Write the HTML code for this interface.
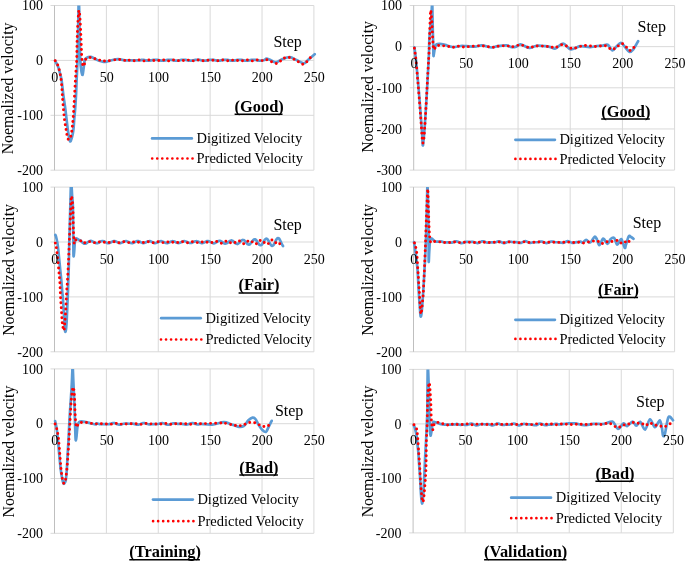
<!DOCTYPE html><html><head><meta charset="utf-8"><style>
html,body{margin:0;padding:0;background:#fff;}
svg{display:block;}
text{font-family:"Liberation Serif", serif;fill:#000;}
.tk{font-size:14px;}
.st{font-size:16px;}
.lg{font-size:14.5px;}
.ti{font-size:15.9px;}
.hd{font-size:16.4px;font-weight:bold;}
</style></head><body>
<svg width="685" height="561" viewBox="0 0 685 561">
<rect width="685" height="561" fill="#fff"/>
<defs>
<clipPath id="cL1"><rect x="51.5" y="5.5" width="265.4" height="164.7"/></clipPath>
<clipPath id="cL2"><rect x="51.5" y="187.1" width="265.4" height="164.7"/></clipPath>
<clipPath id="cL3"><rect x="51.5" y="368.9" width="265.4" height="164.4"/></clipPath>
<clipPath id="cR1"><rect x="410.7" y="5.5" width="266.9" height="164.6"/></clipPath>
<clipPath id="cR2"><rect x="410.5" y="187.1" width="267.1" height="164.7"/></clipPath>
<clipPath id="cR3"><rect x="410.1" y="369.4" width="266.2" height="163.5"/></clipPath>
</defs>
<line x1="106.38" y1="5.5" x2="106.38" y2="170.2" stroke="#d9d9d9" stroke-width="1"/>
<line x1="158.26" y1="5.5" x2="158.26" y2="170.2" stroke="#d9d9d9" stroke-width="1"/>
<line x1="210.14" y1="5.5" x2="210.14" y2="170.2" stroke="#d9d9d9" stroke-width="1"/>
<line x1="262.02" y1="5.5" x2="262.02" y2="170.2" stroke="#d9d9d9" stroke-width="1"/>
<line x1="313.9" y1="5.5" x2="313.9" y2="170.2" stroke="#d9d9d9" stroke-width="1"/>
<line x1="50.5" y1="5.5" x2="313.9" y2="5.5" stroke="#d9d9d9" stroke-width="1"/>
<line x1="50.5" y1="60.4" x2="313.9" y2="60.4" stroke="#d9d9d9" stroke-width="1"/>
<line x1="50.5" y1="115.3" x2="313.9" y2="115.3" stroke="#d9d9d9" stroke-width="1"/>
<line x1="50.5" y1="170.2" x2="313.9" y2="170.2" stroke="#d9d9d9" stroke-width="1"/>
<line x1="54.5" y1="5.5" x2="54.5" y2="170.2" stroke="#bfbfbf" stroke-width="1"/>
<line x1="106.38" y1="187.1" x2="106.38" y2="351.8" stroke="#d9d9d9" stroke-width="1"/>
<line x1="158.26" y1="187.1" x2="158.26" y2="351.8" stroke="#d9d9d9" stroke-width="1"/>
<line x1="210.14" y1="187.1" x2="210.14" y2="351.8" stroke="#d9d9d9" stroke-width="1"/>
<line x1="262.02" y1="187.1" x2="262.02" y2="351.8" stroke="#d9d9d9" stroke-width="1"/>
<line x1="313.9" y1="187.1" x2="313.9" y2="351.8" stroke="#d9d9d9" stroke-width="1"/>
<line x1="50.5" y1="187.1" x2="313.9" y2="187.1" stroke="#d9d9d9" stroke-width="1"/>
<line x1="50.5" y1="242" x2="313.9" y2="242" stroke="#d9d9d9" stroke-width="1"/>
<line x1="50.5" y1="296.9" x2="313.9" y2="296.9" stroke="#d9d9d9" stroke-width="1"/>
<line x1="50.5" y1="351.8" x2="313.9" y2="351.8" stroke="#d9d9d9" stroke-width="1"/>
<line x1="54.5" y1="187.1" x2="54.5" y2="351.8" stroke="#bfbfbf" stroke-width="1"/>
<line x1="106.38" y1="368.9" x2="106.38" y2="533.3" stroke="#d9d9d9" stroke-width="1"/>
<line x1="158.26" y1="368.9" x2="158.26" y2="533.3" stroke="#d9d9d9" stroke-width="1"/>
<line x1="210.14" y1="368.9" x2="210.14" y2="533.3" stroke="#d9d9d9" stroke-width="1"/>
<line x1="262.02" y1="368.9" x2="262.02" y2="533.3" stroke="#d9d9d9" stroke-width="1"/>
<line x1="313.9" y1="368.9" x2="313.9" y2="533.3" stroke="#d9d9d9" stroke-width="1"/>
<line x1="50.5" y1="368.9" x2="313.9" y2="368.9" stroke="#d9d9d9" stroke-width="1"/>
<line x1="50.5" y1="423.7" x2="313.9" y2="423.7" stroke="#d9d9d9" stroke-width="1"/>
<line x1="50.5" y1="478.5" x2="313.9" y2="478.5" stroke="#d9d9d9" stroke-width="1"/>
<line x1="50.5" y1="533.3" x2="313.9" y2="533.3" stroke="#d9d9d9" stroke-width="1"/>
<line x1="54.5" y1="368.9" x2="54.5" y2="533.3" stroke="#bfbfbf" stroke-width="1"/>
<line x1="465.88" y1="5.5" x2="465.88" y2="170.1" stroke="#d9d9d9" stroke-width="1"/>
<line x1="518.06" y1="5.5" x2="518.06" y2="170.1" stroke="#d9d9d9" stroke-width="1"/>
<line x1="570.24" y1="5.5" x2="570.24" y2="170.1" stroke="#d9d9d9" stroke-width="1"/>
<line x1="622.42" y1="5.5" x2="622.42" y2="170.1" stroke="#d9d9d9" stroke-width="1"/>
<line x1="674.6" y1="5.5" x2="674.6" y2="170.1" stroke="#d9d9d9" stroke-width="1"/>
<line x1="409.7" y1="5.5" x2="674.6" y2="5.5" stroke="#d9d9d9" stroke-width="1"/>
<line x1="409.7" y1="46.65" x2="674.6" y2="46.65" stroke="#d9d9d9" stroke-width="1"/>
<line x1="409.7" y1="87.8" x2="674.6" y2="87.8" stroke="#d9d9d9" stroke-width="1"/>
<line x1="409.7" y1="128.95" x2="674.6" y2="128.95" stroke="#d9d9d9" stroke-width="1"/>
<line x1="409.7" y1="170.1" x2="674.6" y2="170.1" stroke="#d9d9d9" stroke-width="1"/>
<line x1="413.7" y1="5.5" x2="413.7" y2="170.1" stroke="#bfbfbf" stroke-width="1"/>
<line x1="465.72" y1="187.1" x2="465.72" y2="351.8" stroke="#d9d9d9" stroke-width="1"/>
<line x1="517.94" y1="187.1" x2="517.94" y2="351.8" stroke="#d9d9d9" stroke-width="1"/>
<line x1="570.16" y1="187.1" x2="570.16" y2="351.8" stroke="#d9d9d9" stroke-width="1"/>
<line x1="622.38" y1="187.1" x2="622.38" y2="351.8" stroke="#d9d9d9" stroke-width="1"/>
<line x1="674.6" y1="187.1" x2="674.6" y2="351.8" stroke="#d9d9d9" stroke-width="1"/>
<line x1="409.5" y1="187.1" x2="674.6" y2="187.1" stroke="#d9d9d9" stroke-width="1"/>
<line x1="409.5" y1="242" x2="674.6" y2="242" stroke="#d9d9d9" stroke-width="1"/>
<line x1="409.5" y1="296.9" x2="674.6" y2="296.9" stroke="#d9d9d9" stroke-width="1"/>
<line x1="409.5" y1="351.8" x2="674.6" y2="351.8" stroke="#d9d9d9" stroke-width="1"/>
<line x1="413.5" y1="187.1" x2="413.5" y2="351.8" stroke="#bfbfbf" stroke-width="1"/>
<line x1="465.14" y1="369.4" x2="465.14" y2="532.9" stroke="#d9d9d9" stroke-width="1"/>
<line x1="517.18" y1="369.4" x2="517.18" y2="532.9" stroke="#d9d9d9" stroke-width="1"/>
<line x1="569.22" y1="369.4" x2="569.22" y2="532.9" stroke="#d9d9d9" stroke-width="1"/>
<line x1="621.26" y1="369.4" x2="621.26" y2="532.9" stroke="#d9d9d9" stroke-width="1"/>
<line x1="673.3" y1="369.4" x2="673.3" y2="532.9" stroke="#d9d9d9" stroke-width="1"/>
<line x1="409.1" y1="369.4" x2="673.3" y2="369.4" stroke="#d9d9d9" stroke-width="1"/>
<line x1="409.1" y1="423.9" x2="673.3" y2="423.9" stroke="#d9d9d9" stroke-width="1"/>
<line x1="409.1" y1="478.4" x2="673.3" y2="478.4" stroke="#d9d9d9" stroke-width="1"/>
<line x1="409.1" y1="532.9" x2="673.3" y2="532.9" stroke="#d9d9d9" stroke-width="1"/>
<line x1="413.1" y1="369.4" x2="413.1" y2="532.9" stroke="#bfbfbf" stroke-width="1"/>
<g clip-path="url(#cL1)">
<path d="M55.2,60.8C55.67,61.75 57.23,64.55 58,66.5C58.77,68.45 59.2,70.17 59.8,72.5C60.4,74.83 61,76.67 61.6,80.5C62.2,84.33 62.83,91.17 63.4,95.5C63.97,99.83 64.55,103.17 65,106.5C65.45,109.83 65.62,111.5 66.1,115.5C66.58,119.5 67.4,126.83 67.9,130.5C68.4,134.17 68.73,135.7 69.1,137.5C69.47,139.3 69.77,140.88 70.1,141.3C70.43,141.72 70.8,140.63 71.1,140C71.4,139.37 71.53,139.08 71.9,137.5C72.27,135.92 72.9,133.67 73.3,130.5C73.7,127.33 74,122 74.3,118.5C74.6,115 74.82,113.33 75.1,109.5C75.38,105.67 75.75,100.33 76,95.5C76.25,90.67 76.4,85.17 76.6,80.5C76.8,75.83 77.05,70.92 77.2,67.5C77.35,64.08 77.38,64.5 77.5,60C77.62,55.5 77.75,47.92 77.9,40.5C78.05,33.08 78.25,23 78.4,15.5C78.55,8 78.65,-4.5 78.8,-4.5C78.95,-4.5 79.13,8 79.3,15.5C79.47,23 79.63,33.08 79.8,40.5C79.97,47.92 80.05,55 80.3,60C80.55,65 80.92,68.03 81.3,70.5C81.68,72.97 82.2,75.3 82.6,74.8C83,74.3 83.35,69.88 83.7,67.5C84.05,65.12 84.23,62.08 84.7,60.5C85.17,58.92 85.53,58.6 86.5,58C87.47,57.4 89.17,56.82 90.5,56.9C91.83,56.98 93.17,57.9 94.5,58.5C95.83,59.1 97,59.95 98.5,60.5C100,61.05 102.17,61.6 103.5,61.8C104.83,62 105.33,61.92 106.5,61.7C107.67,61.48 108.55,60.92 110.5,60.5C112.45,60.08 115.7,59.23 118.2,59.2C120.7,59.17 121.78,60.12 125.5,60.3C129.22,60.48 137.83,60.38 140.5,60.3C143.17,60.22 141,59.86 141.5,59.8C142,59.74 142.83,59.87 143.5,59.95C144.17,60.03 144.83,60.19 145.5,60.29C146.17,60.39 146.83,60.52 147.5,60.56C148.17,60.61 148.83,60.61 149.5,60.56C150.17,60.52 150.83,60.39 151.5,60.29C152.17,60.19 152.83,60.03 153.5,59.95C154.17,59.87 154.83,59.8 155.5,59.8C156.17,59.8 156.83,59.87 157.5,59.95C158.17,60.03 158.83,60.19 159.5,60.29C160.17,60.39 160.83,60.52 161.5,60.56C162.17,60.61 162.83,60.61 163.5,60.56C164.17,60.52 164.83,60.39 165.5,60.29C166.17,60.19 166.83,60.03 167.5,59.95C168.17,59.87 168.83,59.8 169.5,59.8C170.17,59.8 170.83,59.87 171.5,59.95C172.17,60.03 172.83,60.19 173.5,60.29C174.17,60.39 174.83,60.52 175.5,60.56C176.17,60.61 176.83,60.61 177.5,60.56C178.17,60.52 178.83,60.39 179.5,60.29C180.17,60.19 180.83,60.03 181.5,59.95C182.17,59.87 182.83,59.8 183.5,59.8C184.17,59.8 184.83,59.87 185.5,59.95C186.17,60.03 186.83,60.19 187.5,60.29C188.17,60.39 188.83,60.52 189.5,60.56C190.17,60.61 190.83,60.61 191.5,60.56C192.17,60.52 192.83,60.39 193.5,60.29C194.17,60.19 194.83,60.03 195.5,59.95C196.17,59.87 196.83,59.8 197.5,59.8C198.17,59.8 198.83,59.87 199.5,59.95C200.17,60.03 200.83,60.19 201.5,60.29C202.17,60.39 202.83,60.52 203.5,60.56C204.17,60.61 204.83,60.61 205.5,60.56C206.17,60.52 206.83,60.39 207.5,60.29C208.17,60.19 208.83,60.03 209.5,59.95C210.17,59.87 210.83,59.8 211.5,59.8C212.17,59.8 212.83,59.87 213.5,59.95C214.17,60.03 214.83,60.19 215.5,60.29C216.17,60.39 216.83,60.52 217.5,60.56C218.17,60.61 218.83,60.61 219.5,60.56C220.17,60.52 220.83,60.39 221.5,60.29C222.17,60.19 222.83,60.03 223.5,59.95C224.17,59.87 224.83,59.8 225.5,59.8C226.17,59.8 226.83,59.87 227.5,59.95C228.17,60.03 228.83,60.19 229.5,60.29C230.17,60.39 230.83,60.52 231.5,60.56C232.17,60.61 232.83,60.61 233.5,60.56C234.17,60.52 234.83,60.39 235.5,60.29C236.17,60.19 236.83,60.03 237.5,59.95C238.17,59.87 238.83,59.8 239.5,59.8C240.17,59.8 240.83,59.87 241.5,59.95C242.17,60.03 242.83,60.19 243.5,60.29C244.17,60.39 244.83,60.52 245.5,60.56C246.17,60.61 246.83,60.61 247.5,60.56C248.17,60.52 248.83,60.39 249.5,60.29C250.17,60.19 250.83,60.03 251.5,59.95C252.17,59.87 252.83,59.8 253.5,59.8C254.17,59.8 254.83,59.87 255.5,59.95C256.17,60.03 256.83,60.19 257.5,60.29C258.17,60.39 258.83,60.52 259.5,60.56C260.17,60.61 260.67,60.64 261.5,60.56C262.33,60.48 263.67,60.44 264.5,60.1C265.33,59.76 265.5,58.52 266.5,58.5C267.5,58.48 268.95,59.35 270.5,60C272.05,60.65 273.8,62.57 275.8,62.4C277.8,62.23 280.17,59.88 282.5,59C284.83,58.12 287.47,56.93 289.8,57.1C292.13,57.27 294.15,58.97 296.5,60C298.85,61.03 301.9,63.38 303.9,63.3C305.9,63.22 306.7,61.02 308.5,59.5C310.3,57.98 313.67,55.08 314.7,54.2" fill="none" stroke="#5b9bd5" stroke-width="2.7" stroke-linejoin="round" stroke-linecap="round"/>
<path d="M55.2,60.8C55.63,61.55 56.98,63.17 57.8,65.3C58.62,67.43 59.47,70.45 60.1,73.6C60.73,76.75 61.23,80.67 61.6,84.2C61.97,87.73 62,90.75 62.3,94.8C62.6,98.85 63.02,104.22 63.4,108.5C63.78,112.78 64.15,116.98 64.6,120.5C65.05,124.02 65.6,126.68 66.1,129.6C66.6,132.52 67.1,136.35 67.6,138C68.1,139.65 68.53,139.88 69.1,139.5C69.67,139.12 70.43,138.1 71,135.7C71.57,133.3 72.05,129.38 72.5,125.1C72.95,120.82 73.3,116.05 73.7,110C74.1,103.95 74.52,95.37 74.9,88.8C75.28,82.23 75.7,75.4 76,70.6C76.3,65.8 76.52,65.02 76.7,60C76.88,54.98 76.88,47.08 77.1,40.5C77.32,33.92 77.68,25.5 78,20.5C78.32,15.5 78.67,10.83 79,10.5C79.33,10.17 79.67,13.83 80,18.5C80.33,23.17 80.72,32.33 81,38.5C81.28,44.67 81.45,51.33 81.7,55.5C81.95,59.67 82.2,61.67 82.5,63.5C82.8,65.33 83.08,66.67 83.5,66.5C83.92,66.33 84.55,63.83 85,62.5C85.45,61.17 85.28,59.33 86.2,58.5C87.12,57.67 88.95,57.42 90.5,57.5C92.05,57.58 93.83,58.53 95.5,59C97.17,59.47 98.67,59.97 100.5,60.3C102.33,60.63 103.5,61.13 106.5,61C109.5,60.87 115.33,59.58 118.5,59.5C121.67,59.42 124.17,60.43 125.5,60.5C126.83,60.57 126,59.96 126.5,59.9C127,59.84 127.83,60.02 128.5,60.15C129.17,60.27 129.83,60.52 130.5,60.65C131.17,60.77 131.83,60.9 132.5,60.9C133.17,60.9 133.83,60.77 134.5,60.65C135.17,60.52 135.83,60.27 136.5,60.15C137.17,60.02 137.83,59.9 138.5,59.9C139.17,59.9 139.83,60.02 140.5,60.15C141.17,60.27 141.83,60.52 142.5,60.65C143.17,60.77 143.83,60.9 144.5,60.9C145.17,60.9 145.83,60.77 146.5,60.65C147.17,60.52 147.83,60.27 148.5,60.15C149.17,60.02 149.83,59.9 150.5,59.9C151.17,59.9 151.83,60.02 152.5,60.15C153.17,60.27 153.83,60.52 154.5,60.65C155.17,60.77 155.83,60.9 156.5,60.9C157.17,60.9 157.83,60.77 158.5,60.65C159.17,60.52 159.83,60.27 160.5,60.15C161.17,60.02 161.83,59.9 162.5,59.9C163.17,59.9 163.83,60.02 164.5,60.15C165.17,60.27 165.83,60.52 166.5,60.65C167.17,60.77 167.83,60.9 168.5,60.9C169.17,60.9 169.83,60.77 170.5,60.65C171.17,60.52 171.83,60.27 172.5,60.15C173.17,60.02 173.83,59.9 174.5,59.9C175.17,59.9 175.83,60.02 176.5,60.15C177.17,60.27 177.83,60.52 178.5,60.65C179.17,60.77 179.83,60.9 180.5,60.9C181.17,60.9 181.83,60.77 182.5,60.65C183.17,60.52 183.83,60.27 184.5,60.15C185.17,60.02 185.83,59.9 186.5,59.9C187.17,59.9 187.83,60.02 188.5,60.15C189.17,60.27 189.83,60.52 190.5,60.65C191.17,60.77 191.83,60.9 192.5,60.9C193.17,60.9 193.83,60.77 194.5,60.65C195.17,60.52 195.83,60.27 196.5,60.15C197.17,60.02 197.83,59.9 198.5,59.9C199.17,59.9 199.83,60.02 200.5,60.15C201.17,60.27 201.83,60.52 202.5,60.65C203.17,60.77 203.83,60.9 204.5,60.9C205.17,60.9 205.83,60.77 206.5,60.65C207.17,60.52 207.83,60.27 208.5,60.15C209.17,60.02 209.83,59.9 210.5,59.9C211.17,59.9 211.83,60.02 212.5,60.15C213.17,60.27 213.83,60.52 214.5,60.65C215.17,60.77 215.83,60.9 216.5,60.9C217.17,60.9 217.83,60.77 218.5,60.65C219.17,60.52 219.83,60.27 220.5,60.15C221.17,60.02 221.83,59.9 222.5,59.9C223.17,59.9 223.83,60.02 224.5,60.15C225.17,60.27 225.83,60.52 226.5,60.65C227.17,60.77 227.83,60.9 228.5,60.9C229.17,60.9 229.83,60.77 230.5,60.65C231.17,60.52 231.83,60.27 232.5,60.15C233.17,60.02 233.83,59.9 234.5,59.9C235.17,59.9 235.83,60.02 236.5,60.15C237.17,60.27 237.83,60.52 238.5,60.65C239.17,60.77 239.83,60.9 240.5,60.9C241.17,60.9 241.83,60.77 242.5,60.65C243.17,60.52 243.83,60.27 244.5,60.15C245.17,60.02 245.83,59.9 246.5,59.9C247.17,59.9 247.83,60.02 248.5,60.15C249.17,60.27 249.83,60.52 250.5,60.65C251.17,60.77 251.83,60.9 252.5,60.9C253.17,60.9 253.83,60.77 254.5,60.65C255.17,60.52 255.83,60.27 256.5,60.15C257.17,60.02 257.83,59.9 258.5,59.9C259.17,59.9 259.83,60.02 260.5,60.15C261.17,60.27 261.83,60.66 262.5,60.65C263.17,60.64 263.5,60.19 264.5,60.1C265.5,60.01 266.5,59.53 268.5,60.1C270.5,60.67 273.83,63.85 276.5,63.5C279.17,63.15 282.17,58.97 284.5,58C286.83,57.03 288.5,57.28 290.5,57.7C292.5,58.12 294.33,59.43 296.5,60.5C298.67,61.57 301.1,64.67 303.5,64.1C305.9,63.53 309.67,58.27 310.9,57.1" fill="none" stroke="#ff0000" stroke-width="2.95" stroke-linejoin="round" stroke-linecap="round" stroke-dasharray="0 5"/>
</g>
<g clip-path="url(#cL2)">
<path d="M55.3,234.9C55.42,235.17 55.67,235.25 56,236.5C56.33,237.75 56.92,240.13 57.3,242.4C57.68,244.67 57.88,246.25 58.3,250.1C58.72,253.95 59.3,260.43 59.8,265.5C60.3,270.57 60.88,276 61.3,280.5C61.72,285 62.05,289.67 62.3,292.5C62.55,295.33 62.47,292.83 62.8,297.5C63.13,302.17 63.9,314.83 64.3,320.5C64.7,326.17 64.9,330.17 65.2,331.5C65.5,332.83 65.85,330.33 66.1,328.5C66.35,326.67 66.43,325.67 66.7,320.5C66.97,315.33 67.45,303.67 67.7,297.5C67.95,291.33 68.02,288.83 68.2,283.5C68.38,278.17 68.62,272.5 68.8,265.5C68.98,258.5 69.07,250.67 69.3,241.5C69.53,232.33 69.9,220.33 70.2,210.5C70.5,200.67 70.78,185 71.1,182.5C71.42,180 71.8,191.5 72.1,195.5C72.4,199.5 72.7,199.33 72.9,206.5C73.1,213.67 73.2,230.33 73.3,238.5C73.4,246.67 73.37,253.17 73.5,255.5C73.63,257.83 73.85,255 74.1,252.5C74.35,250 74.68,242.83 75,240.5C75.32,238.17 75.58,238.75 76,238.5C76.42,238.25 77,238.76 77.5,239C78,239.24 78.58,239.73 79,239.94C79.42,240.16 79.67,240.08 80,240.26C80.33,240.45 80.67,240.76 81,241.06C81.33,241.36 81.67,241.75 82,242.07C82.33,242.4 82.67,242.75 83,243.01C83.33,243.27 83.67,243.5 84,243.62C84.33,243.74 84.67,243.79 85,243.76C85.33,243.73 85.67,243.59 86,243.43C86.33,243.27 86.67,243.01 87,242.78C87.33,242.54 87.67,242.24 88,242.01C88.33,241.77 88.67,241.52 89,241.35C89.33,241.17 89.67,241.04 90,240.97C90.33,240.9 90.67,240.88 91,240.91C91.33,240.94 91.67,241.03 92,241.15C92.33,241.27 92.67,241.46 93,241.65C93.33,241.84 93.67,242.07 94,242.27C94.33,242.47 94.67,242.69 95,242.84C95.33,242.99 95.67,243.13 96,243.19C96.33,243.26 96.67,243.28 97,243.24C97.33,243.2 97.67,243.09 98,242.96C98.33,242.83 98.67,242.63 99,242.45C99.33,242.26 99.67,242.03 100,241.84C100.33,241.65 100.67,241.45 101,241.32C101.33,241.18 101.67,241.07 102,241.02C102.33,240.97 102.67,240.97 103,241.02C103.33,241.08 103.67,241.19 104,241.33C104.33,241.47 104.67,241.67 105,241.85C105.33,242.03 105.67,242.26 106,242.43C106.33,242.61 106.67,242.79 107,242.92C107.33,243.04 107.67,243.13 108,243.16C108.33,243.2 108.67,243.18 109,243.11C109.33,243.05 109.67,242.92 110,242.78C110.33,242.63 110.67,242.44 111,242.26C111.33,242.08 111.67,241.86 112,241.7C112.33,241.53 112.67,241.37 113,241.26C113.33,241.15 113.67,241.08 114,241.06C114.33,241.05 114.67,241.08 115,241.16C115.33,241.23 115.67,241.37 116,241.51C116.33,241.66 116.67,241.86 117,242.03C117.33,242.21 117.67,242.41 118,242.56C118.33,242.71 118.67,242.86 119,242.95C119.33,243.04 119.67,243.1 120,243.1C120.33,243.11 120.67,243.06 121,242.97C121.33,242.89 121.67,242.75 122,242.6C122.33,242.45 122.67,242.26 123,242.09C123.33,241.92 123.67,241.72 124,241.58C124.33,241.43 124.67,241.3 125,241.22C125.33,241.14 125.67,241.1 126,241.11C126.33,241.12 126.67,241.18 127,241.28C127.33,241.37 127.67,241.52 128,241.68C128.33,241.83 128.67,242.02 129,242.19C129.33,242.36 129.67,242.55 130,242.68C130.33,242.82 130.67,242.94 131,243.01C131.33,243.07 131.67,243.1 132,243.08C132.33,243.05 132.67,242.98 133,242.87C133.33,242.77 133.67,242.61 134,242.45C134.33,242.29 134.67,242.09 135,241.93C135.33,241.76 135.67,241.59 136,241.46C136.33,241.33 136.67,241.22 137,241.17C137.33,241.12 137.67,241.11 138,241.14C138.33,241.18 138.67,241.27 139,241.39C139.33,241.5 139.67,241.67 140,241.83C140.33,241.99 140.67,242.19 141,242.35C141.33,242.51 141.67,242.68 142,242.79C142.33,242.91 142.67,243 143,243.04C143.33,243.08 143.67,243.08 144,243.03C144.33,242.98 144.67,242.87 145,242.75C145.33,242.63 145.67,242.46 146,242.29C146.33,242.13 146.67,241.94 147,241.78C147.33,241.63 147.67,241.47 148,241.36C148.33,241.25 148.67,241.17 149,241.15C149.33,241.12 149.67,241.14 150,241.2C150.33,241.26 150.67,241.38 151,241.51C151.33,241.64 151.67,241.82 152,241.98C152.33,242.15 152.67,242.34 153,242.49C153.33,242.64 153.67,242.79 154,242.88C154.33,242.98 154.67,243.04 155,243.05C155.33,243.07 155.67,243.03 156,242.96C156.33,242.89 156.67,242.76 157,242.62C157.33,242.48 157.67,242.3 158,242.14C158.33,241.98 158.67,241.79 159,241.65C159.33,241.5 159.67,241.37 160,241.28C160.33,241.2 160.67,241.15 161,241.15C161.33,241.15 161.67,241.2 162,241.29C162.33,241.37 162.67,241.51 163,241.65C163.33,241.79 163.67,241.98 164,242.14C164.33,242.3 164.67,242.48 165,242.62C165.33,242.75 165.67,242.88 166,242.95C166.33,243.02 166.67,243.05 167,243.04C167.33,243.03 167.67,242.96 168,242.87C168.33,242.77 168.67,242.63 169,242.48C169.33,242.33 169.67,242.15 170,241.99C170.33,241.83 170.67,241.65 171,241.53C171.33,241.4 171.67,241.29 172,241.23C172.33,241.17 172.67,241.15 173,241.18C173.33,241.2 173.67,241.28 174,241.39C174.33,241.49 174.67,241.64 175,241.79C175.33,241.94 175.67,242.13 176,242.29C176.33,242.44 176.67,242.61 177,242.73C177.33,242.84 177.67,242.94 178,242.99C178.33,243.03 178.67,243.04 179,243C179.33,242.96 179.67,242.87 180,242.76C180.33,242.65 180.67,242.49 181,242.33C181.33,242.18 181.67,241.99 182,241.84C182.33,241.69 182.67,241.53 183,241.43C183.33,241.32 183.67,241.23 184,241.2C184.33,241.17 184.67,241.18 185,241.23C185.33,241.28 185.67,241.38 186,241.5C186.33,241.62 186.67,241.79 187,241.94C187.33,242.09 187.67,242.28 188,242.42C188.33,242.57 188.67,242.72 189,242.82C189.33,242.91 189.67,242.98 190,243C190.33,243.03 190.67,243 191,242.94C191.33,242.88 191.67,242.76 192,242.64C192.33,242.51 192.67,242.34 193,242.19C193.33,242.03 193.67,241.85 194,241.71C194.33,241.57 194.67,241.43 195,241.35C195.33,241.26 195.67,241.2 196,241.2C196.33,241.19 196.67,241.23 197,241.3C197.33,241.37 197.67,241.5 198,241.63C198.33,241.76 198.67,241.93 199,242.09C199.33,242.24 199.67,242.42 200,242.55C200.33,242.68 200.67,242.81 201,242.9C201.33,242.98 201.67,243.03 202,243.03C202.33,243.04 202.67,242.99 203,242.91C203.33,242.83 203.67,242.69 204,242.54C204.33,242.4 204.67,242.2 205,242.03C205.33,241.86 205.67,241.66 206,241.52C206.33,241.37 206.67,241.22 207,241.14C207.33,241.06 207.67,241.02 208,241.03C208.33,241.04 208.67,241.11 209,241.22C209.33,241.33 209.67,241.5 210,241.67C210.33,241.85 210.67,242.07 211,242.27C211.33,242.46 211.67,242.68 212,242.84C212.33,243 212.67,243.14 213,243.22C213.33,243.3 213.67,243.33 214,243.29C214.33,243.26 214.67,243.16 215,243.03C215.33,242.89 215.67,242.69 216,242.48C216.33,242.28 216.67,242.02 217,241.81C217.33,241.59 217.67,241.36 218,241.19C218.33,241.03 218.67,240.88 219,240.82C219.33,240.75 219.67,240.74 220,240.79C220.33,240.85 220.67,240.98 221,241.15C221.33,241.31 221.67,241.55 222,241.78C222.33,242.01 222.67,242.3 223,242.53C223.33,242.77 223.67,243.02 224,243.18C224.33,243.35 224.67,243.49 225,243.55C225.33,243.6 225.67,243.59 226,243.5C226.33,243.42 226.67,243.26 227,243.06C227.33,242.86 227.67,242.59 228,242.33C228.33,242.07 228.67,241.76 229,241.51C229.33,241.26 229.67,241 230,240.83C230.33,240.66 230.67,240.53 231,240.48C231.33,240.44 231.67,240.47 232,240.58C232.33,240.68 232.67,240.89 233,241.12C233.33,241.35 233.67,241.68 234,241.98C234.33,242.28 234.67,242.64 235,242.93C235.33,243.21 235.67,243.5 236,243.68C236.33,243.87 236.67,244 237,244.02C237.33,244.05 237.67,243.98 238,243.82C238.33,243.67 238.67,243.4 239,243.11C239.33,242.82 239.67,242.43 240,242.07C240.33,241.72 240.67,241.3 241,240.99C241.33,240.67 241.67,240.36 242,240.17C242.33,239.99 242.67,239.87 243,239.88C243.33,239.88 243.67,240.01 244,240.21C244.33,240.41 244.67,240.75 245,241.1C245.33,241.46 245.67,241.92 246,242.32C246.33,242.73 246.67,243.19 247,243.53C247.33,243.87 247.67,244.2 248,244.38C248.33,244.56 248.67,244.65 249,244.6C249.33,244.56 249.67,244.38 250,244.12C250.33,243.85 250.67,243.45 251,243.03C251.33,242.62 251.67,242.09 252,241.63C252.33,241.18 252.67,240.68 253,240.31C253.33,239.95 253.67,239.62 254,239.45C254.33,239.29 254.67,239.23 255,239.32C255.33,239.41 255.67,239.66 256,239.98C256.33,240.31 256.67,240.8 257,241.28C257.33,241.76 257.67,242.36 258,242.86C258.33,243.36 258.67,243.9 259,244.28C259.33,244.66 259.67,244.99 260,245.13C260.33,245.27 260.67,245.28 261,245.14C261.33,244.99 261.67,244.67 262,244.27C262.33,243.88 262.67,243.3 263,242.76C263.33,242.21 263.67,241.54 264,241C264.33,240.46 264.67,239.89 265,239.5C265.33,239.12 265.67,238.81 266,238.7C266.33,238.59 266.67,238.64 267,238.84C267.33,239.05 267.67,239.46 268,239.93C268.33,240.4 268.67,241.06 269,241.66C269.33,242.27 269.67,243 270,243.58C270.33,244.16 270.67,244.75 271,245.13C271.33,245.51 271.67,245.79 272,245.86C272.33,245.93 272.67,245.81 273,245.54C273.33,245.26 273.67,244.76 274,244.22C274.33,243.67 274.67,242.93 275,242.26C275.33,241.59 275.67,240.8 276,240.2C276.33,239.59 276.67,238.99 277,238.62C277.33,238.26 277.67,238.02 278,238C278.33,237.98 278.67,238.18 279,238.53C279.33,238.88 279.67,239.47 280,240.09C280.33,240.72 280.67,241.54 281,242.27C281.33,243 281.67,243.83 282,244.46C282.33,245.08 282.83,245.76 283,246.03" fill="none" stroke="#5b9bd5" stroke-width="2.7" stroke-linejoin="round" stroke-linecap="round"/>
<path d="M55.3,243.1C55.42,243.45 55.65,243.05 56,245.2C56.35,247.35 56.93,251.78 57.4,256C57.87,260.22 58.4,266.25 58.8,270.5C59.2,274.75 59.55,277.95 59.8,281.5C60.05,285.05 60.13,288.45 60.3,291.8C60.47,295.15 60.6,298.33 60.8,301.6C61,304.87 61.28,308.13 61.5,311.4C61.72,314.67 61.88,318.67 62.1,321.2C62.32,323.73 62.48,325.02 62.8,326.6C63.12,328.18 63.72,330.82 64,330.7C64.28,330.58 64.33,327.57 64.5,325.9C64.67,324.23 64.8,323.2 65,320.7C65.2,318.2 65.5,314.17 65.7,310.9C65.9,307.63 66.03,304.45 66.2,301.1C66.37,297.75 66.5,294.07 66.7,290.8C66.9,287.53 67.1,286.38 67.4,281.5C67.7,276.62 68.18,268.17 68.5,261.5C68.82,254.83 69.02,248.23 69.3,241.5C69.58,234.77 69.95,227.1 70.2,221.1C70.45,215.1 70.62,209.6 70.8,205.5C70.98,201.4 71.1,197.67 71.3,196.5C71.5,195.33 71.73,196.57 72,198.5C72.27,200.43 72.67,202.93 72.9,208.1C73.13,213.27 73.23,224.43 73.4,229.5C73.57,234.57 73.75,236.13 73.9,238.5C74.05,240.87 74.02,243.43 74.3,243.7C74.58,243.97 75.07,240.68 75.6,240.1C76.13,239.52 76.48,240.02 77.5,240.2C78.52,240.38 80.87,240.82 81.7,241.2C82.53,241.58 82.2,242.25 82.5,242.5C82.8,242.75 83.17,242.68 83.5,242.73C83.83,242.78 84.17,242.8 84.5,242.8C84.83,242.79 85.17,242.75 85.5,242.69C85.83,242.63 86.17,242.54 86.5,242.44C86.83,242.34 87.17,242.22 87.5,242.12C87.83,242.02 88.17,241.9 88.5,241.82C88.83,241.74 89.17,241.67 89.5,241.64C89.83,241.6 90.17,241.6 90.5,241.62C90.83,241.64 91.17,241.7 91.5,241.78C91.83,241.85 92.17,241.95 92.5,242.05C92.83,242.15 93.17,242.28 93.5,242.38C93.83,242.47 94.17,242.58 94.5,242.64C94.83,242.71 95.17,242.76 95.5,242.78C95.83,242.8 96.17,242.78 96.5,242.74C96.83,242.71 97.17,242.63 97.5,242.55C97.83,242.47 98.17,242.35 98.5,242.25C98.83,242.15 99.17,242.03 99.5,241.94C99.83,241.84 100.17,241.76 100.5,241.7C100.83,241.65 101.17,241.62 101.5,241.62C101.83,241.62 102.17,241.65 102.5,241.7C102.83,241.76 103.17,241.85 103.5,241.94C103.83,242.03 104.17,242.15 104.5,242.25C104.83,242.35 105.17,242.46 105.5,242.54C105.83,242.63 106.17,242.7 106.5,242.74C106.83,242.77 107.17,242.79 107.5,242.77C107.83,242.75 108.17,242.7 108.5,242.64C108.83,242.57 109.17,242.47 109.5,242.37C109.83,242.28 110.17,242.16 110.5,242.06C110.83,241.96 111.17,241.86 111.5,241.79C111.83,241.72 112.17,241.66 112.5,241.64C112.83,241.62 113.17,241.62 113.5,241.66C113.83,241.69 114.17,241.76 114.5,241.84C114.83,241.91 115.17,242.02 115.5,242.12C115.83,242.22 116.17,242.34 116.5,242.43C116.83,242.52 117.17,242.61 117.5,242.67C117.83,242.73 118.17,242.76 118.5,242.77C118.83,242.77 119.17,242.75 119.5,242.7C119.83,242.65 120.17,242.57 120.5,242.48C120.83,242.4 121.17,242.28 121.5,242.18C121.83,242.09 122.17,241.97 122.5,241.89C122.83,241.81 123.17,241.73 123.5,241.69C123.83,241.65 124.17,241.63 124.5,241.64C124.83,241.65 125.17,241.69 125.5,241.76C125.83,241.82 126.17,241.91 126.5,242C126.83,242.09 127.17,242.21 127.5,242.31C127.83,242.4 128.17,242.51 128.5,242.58C128.83,242.65 129.17,242.71 129.5,242.74C129.83,242.77 130.17,242.77 130.5,242.74C130.83,242.71 131.17,242.65 131.5,242.58C131.83,242.51 132.17,242.4 132.5,242.31C132.83,242.21 133.17,242.1 133.5,242C133.83,241.91 134.17,241.82 134.5,241.76C134.83,241.7 135.17,241.66 135.5,241.65C135.83,241.64 136.17,241.66 136.5,241.7C136.83,241.74 137.17,241.82 137.5,241.9C137.83,241.98 138.17,242.09 138.5,242.18C138.83,242.28 139.17,242.39 139.5,242.48C139.83,242.56 140.17,242.64 140.5,242.68C140.83,242.73 141.17,242.75 141.5,242.75C141.83,242.74 142.17,242.71 142.5,242.65C142.83,242.6 143.17,242.51 143.5,242.42C143.83,242.33 144.17,242.22 144.5,242.12C144.83,242.03 145.17,241.93 145.5,241.85C145.83,241.78 146.17,241.71 146.5,241.68C146.83,241.65 147.17,241.65 147.5,241.67C147.83,241.69 148.17,241.74 148.5,241.81C148.83,241.88 149.17,241.97 149.5,242.07C149.83,242.16 150.17,242.27 150.5,242.36C150.83,242.45 151.17,242.55 151.5,242.61C151.83,242.67 152.17,242.72 152.5,242.73C152.83,242.75 153.17,242.74 153.5,242.7C153.83,242.66 154.17,242.6 154.5,242.52C154.83,242.44 155.17,242.34 155.5,242.24C155.83,242.15 156.17,242.04 156.5,241.96C156.83,241.87 157.17,241.79 157.5,241.74C157.83,241.69 158.17,241.66 158.5,241.66C158.83,241.66 159.17,241.7 159.5,241.74C159.83,241.79 160.17,241.88 160.5,241.96C160.83,242.04 161.17,242.15 161.5,242.24C161.83,242.34 162.17,242.44 162.5,242.52C162.83,242.59 163.17,242.66 163.5,242.69C163.83,242.73 164.17,242.74 164.5,242.72C164.83,242.71 165.17,242.66 165.5,242.6C165.83,242.54 166.17,242.45 166.5,242.36C166.83,242.27 167.17,242.16 167.5,242.07C167.83,241.98 168.17,241.89 168.5,241.82C168.83,241.76 169.17,241.71 169.5,241.69C169.83,241.67 170.17,241.67 170.5,241.7C170.83,241.73 171.17,241.8 171.5,241.87C171.83,241.94 172.17,242.04 172.5,242.13C172.83,242.22 173.17,242.33 173.5,242.41C173.83,242.49 174.17,242.58 174.5,242.63C174.83,242.68 175.17,242.72 175.5,242.72C175.83,242.73 176.17,242.7 176.5,242.66C176.83,242.61 177.17,242.54 177.5,242.46C177.83,242.38 178.17,242.28 178.5,242.19C178.83,242.1 179.17,241.99 179.5,241.92C179.83,241.84 180.17,241.77 180.5,241.73C180.83,241.69 181.17,241.68 181.5,241.69C181.83,241.7 182.17,241.74 182.5,241.79C182.83,241.85 183.17,241.94 183.5,242.02C183.83,242.1 184.17,242.21 184.5,242.3C184.83,242.39 185.17,242.48 185.5,242.55C185.83,242.61 186.17,242.67 186.5,242.69C186.83,242.72 187.17,242.72 187.5,242.69C187.83,242.67 188.17,242.61 188.5,242.55C188.83,242.48 189.17,242.38 189.5,242.3C189.83,242.21 190.17,242.1 190.5,242.02C190.83,241.94 191.17,241.85 191.5,241.8C191.83,241.75 192.17,241.71 192.5,241.7C192.83,241.69 193.17,241.7 193.5,241.74C193.83,241.78 194.17,241.85 194.5,241.92C194.83,242 195.17,242.1 195.5,242.19C195.83,242.27 196.17,242.38 196.5,242.45C196.83,242.53 197.17,242.6 197.5,242.64C197.83,242.68 198.17,242.71 198.5,242.7C198.83,242.7 199.17,242.66 199.5,242.61C199.83,242.56 200.17,242.48 200.5,242.4C200.83,242.32 201.17,242.22 201.5,242.13C201.83,242.04 202.17,241.93 202.5,241.85C202.83,241.77 203.17,241.7 203.5,241.66C203.83,241.62 204.17,241.6 204.5,241.61C204.83,241.63 205.17,241.68 205.5,241.75C205.83,241.82 206.17,241.93 206.5,242.04C206.83,242.15 207.17,242.29 207.5,242.4C207.83,242.52 208.17,242.64 208.5,242.73C208.83,242.81 209.17,242.89 209.5,242.92C209.83,242.94 210.17,242.94 210.5,242.89C210.83,242.85 211.17,242.76 211.5,242.66C211.83,242.55 212.17,242.4 212.5,242.27C212.83,242.13 213.17,241.96 213.5,241.83C213.83,241.7 214.17,241.56 214.5,241.48C214.83,241.39 215.17,241.33 215.5,241.32C215.83,241.32 216.17,241.36 216.5,241.43C216.83,241.51 217.17,241.64 217.5,241.78C217.83,241.92 218.17,242.11 218.5,242.28C218.83,242.44 219.17,242.64 219.5,242.78C219.83,242.92 220.17,243.05 220.5,243.13C220.83,243.2 221.17,243.23 221.5,243.21C221.83,243.19 222.17,243.11 222.5,242.99C222.83,242.88 223.17,242.7 223.5,242.52C223.83,242.34 224.17,242.12 224.5,241.93C224.83,241.74 225.17,241.54 225.5,241.39C225.83,241.25 226.17,241.13 226.5,241.08C226.83,241.03 227.17,241.03 227.5,241.09C227.83,241.15 228.17,241.28 228.5,241.44C228.83,241.59 229.17,241.82 229.5,242.03C229.83,242.24 230.17,242.5 230.5,242.7C230.83,242.9 231.17,243.12 231.5,243.25C231.83,243.38 232.17,243.48 232.5,243.5C232.83,243.52 233.17,243.47 233.5,243.37C233.83,243.26 234.17,243.08 234.5,242.87C234.83,242.67 235.17,242.4 235.5,242.16C235.83,241.92 236.17,241.64 236.5,241.43C236.83,241.23 237.17,241.02 237.5,240.91C237.83,240.8 238.17,240.74 238.5,240.76C238.83,240.78 239.17,240.88 239.5,241.04C239.83,241.19 240.17,241.43 240.5,241.67C240.83,241.92 241.17,242.23 241.5,242.49C241.83,242.75 242.17,243.05 242.5,243.25C242.83,243.45 243.17,243.63 243.5,243.71C243.83,243.8 244.17,243.81 244.5,243.74C244.83,243.67 245.17,243.5 245.5,243.3C245.83,243.09 246.17,242.8 246.5,242.52C246.83,242.23 247.17,241.89 247.5,241.61C247.83,241.34 248.17,241.05 248.5,240.86C248.83,240.68 249.17,240.53 249.5,240.49C249.83,240.45 250.17,240.5 250.5,240.62C250.83,240.75 251.17,240.98 251.5,241.23C251.83,241.49 252.17,241.84 252.5,242.15C252.83,242.46 253.17,242.83 253.5,243.11C253.83,243.39 254.17,243.66 254.5,243.82C254.83,243.98 255.17,244.07 255.5,244.06C255.83,244.05 256.17,243.94 256.5,243.75C256.83,243.57 257.17,243.27 257.5,242.97C257.83,242.67 258.17,242.27 258.5,241.93C258.83,241.6 259.17,241.22 259.5,240.95C259.83,240.68 260.17,240.44 260.5,240.32C260.83,240.2 261.17,240.17 261.5,240.24C261.83,240.31 262.17,240.5 262.5,240.74C262.83,240.98 263.17,241.35 263.5,241.69C263.83,242.04 264.17,242.47 264.5,242.82C264.83,243.17 265.17,243.54 265.5,243.79C265.83,244.04 266.17,244.24 266.5,244.31C266.83,244.37 267.17,244.34 267.5,244.2C267.83,244.06 268.17,243.8 268.5,243.49C268.83,243.19 269.17,242.77 269.5,242.38C269.83,242 270.17,241.54 270.5,241.19C270.83,240.84 271.17,240.49 271.5,240.28C271.83,240.07 272.17,239.93 272.5,239.92C272.83,239.91 273.17,240.03 273.5,240.24C273.83,240.44 274.17,240.79 274.5,241.15C274.83,241.51 275.17,241.98 275.5,242.39C275.83,242.8 276.17,243.27 276.5,243.61C276.83,243.95 277.17,244.26 277.5,244.43C277.83,244.59 278.17,244.66 278.5,244.59C278.83,244.53 279.17,244.32 279.5,244.05C279.83,243.77 280.17,243.35 280.5,242.94C280.83,242.53 281.33,241.81 281.5,241.59" fill="none" stroke="#ff0000" stroke-width="2.95" stroke-linejoin="round" stroke-linecap="round" stroke-dasharray="0 5"/>
</g>
<g clip-path="url(#cL3)">
<path d="M55.1,421.1C55.38,422.48 56.27,425.62 56.8,429.4C57.33,433.18 57.85,439.12 58.3,443.8C58.75,448.48 59.08,453.13 59.5,457.5C59.92,461.87 60.38,466.67 60.8,470C61.22,473.33 61.63,475.5 62,477.5C62.37,479.5 62.68,480.95 63,482C63.32,483.05 63.58,483.72 63.9,483.8C64.22,483.88 64.58,483.13 64.9,482.5C65.22,481.87 65.48,482.08 65.8,480C66.12,477.92 66.5,474.17 66.8,470C67.1,465.83 67.32,460 67.6,455C67.88,450 68.2,445.58 68.5,440C68.8,434.42 69.13,426.52 69.4,421.5C69.67,416.48 69.73,415.53 70.1,409.9C70.47,404.27 71.23,393.93 71.6,387.7C71.97,381.47 72.12,376.03 72.3,372.5C72.48,368.97 72.53,365.17 72.7,366.5C72.87,367.83 73,373.78 73.3,380.5C73.6,387.22 74.18,398.8 74.5,406.8C74.82,414.8 75,422.97 75.2,428.5C75.4,434.03 75.48,438.67 75.7,440C75.92,441.33 76.2,438.75 76.5,436.5C76.8,434.25 77.08,428.87 77.5,426.5C77.92,424.13 78.13,423.13 79,422.3C79.87,421.47 80.87,421.37 82.7,421.5C84.53,421.63 87.87,422.6 90,423.1C92.13,423.6 94.42,424.47 95.5,424.5C96.58,424.53 96.08,423.42 96.5,423.28C96.92,423.15 97.5,423.57 98,423.7C98.5,423.83 99,423.98 99.5,424.06C100,424.14 100.5,424.17 101,424.18C101.5,424.19 102,424.13 102.5,424.11C103,424.09 103.5,424.05 104,424.05C104.5,424.06 105,424.1 105.5,424.13C106,424.17 106.5,424.25 107,424.26C107.5,424.28 108,424.29 108.5,424.23C109,424.17 109.5,424.05 110,423.91C110.5,423.78 111,423.57 111.5,423.43C112,423.3 112.5,423.14 113,423.1C113.5,423.06 114,423.09 114.5,423.19C115,423.29 115.5,423.51 116,423.7C116.5,423.89 117,424.16 117.5,424.33C118,424.49 118.5,424.65 119,424.69C119.5,424.74 120,424.69 120.5,424.6C121,424.52 121.5,424.32 122,424.18C122.5,424.04 123,423.85 123.5,423.74C124,423.64 124.5,423.57 125,423.55C125.5,423.52 126,423.57 126.5,423.6C127,423.63 127.5,423.7 128,423.72C128.5,423.74 129,423.74 129.5,423.73C130,423.71 130.5,423.65 131,423.63C131.5,423.61 132,423.58 132.5,423.61C133,423.65 133.5,423.74 134,423.85C134.5,423.96 135,424.14 135.5,424.28C136,424.41 136.5,424.57 137,424.63C137.5,424.69 138,424.7 138.5,424.63C139,424.55 139.5,424.37 140,424.19C140.5,424.01 141,423.73 141.5,423.55C142,423.37 142.5,423.18 143,423.11C143.5,423.04 144,423.06 144.5,423.13C145,423.2 145.5,423.38 146,423.53C146.5,423.68 147,423.9 147.5,424.03C148,424.16 148.5,424.27 149,424.31C149.5,424.35 150,424.32 150.5,424.29C151,424.26 151.5,424.17 152,424.13C152.5,424.09 153,424.04 153.5,424.04C154,424.03 154.5,424.07 155,424.08C155.5,424.09 156,424.14 156.5,424.12C157,424.1 157.5,424.06 158,423.97C158.5,423.89 159,423.73 159.5,423.61C160,423.49 160.5,423.32 161,423.25C161.5,423.17 162,423.13 162.5,423.18C163,423.23 163.5,423.38 164,423.54C164.5,423.7 165,423.97 165.5,424.16C166,424.35 166.5,424.56 167,424.66C167.5,424.75 168,424.78 168.5,424.73C169,424.68 169.5,424.51 170,424.36C170.5,424.21 171,423.97 171.5,423.82C172,423.67 172.5,423.52 173,423.45C173.5,423.39 174,423.39 174.5,423.42C175,423.44 175.5,423.55 176,423.61C176.5,423.67 177,423.75 177.5,423.78C178,423.81 178.5,423.81 179,423.8C179.5,423.8 180,423.75 180.5,423.76C181,423.77 181.5,423.78 182,423.84C182.5,423.9 183,424.01 183.5,424.12C184,424.22 184.5,424.39 185,424.47C185.5,424.54 186,424.62 186.5,424.59C187,424.57 187.5,424.46 188,424.31C188.5,424.17 189,423.92 189.5,423.73C190,423.55 190.5,423.31 191,423.19C191.5,423.07 192,423.01 192.5,423.03C193,423.06 193.5,423.2 194,423.35C194.5,423.5 195,423.74 195.5,423.91C196,424.08 196.5,424.27 197,424.36C197.5,424.45 197.92,424.54 198.5,424.46C199.08,424.39 198.22,423.88 200.5,423.9C202.78,423.92 208.3,424.9 212.2,424.6C216.1,424.3 220.85,422.2 223.9,422.1C226.95,422 228.17,423.25 230.5,424C232.83,424.75 235.7,426.27 237.9,426.6C240.1,426.93 241.95,427.07 243.7,426C245.45,424.93 246.93,421.6 248.4,420.2C249.87,418.8 251.33,417.8 252.5,417.6C253.67,417.4 254.33,417.7 255.4,419C256.47,420.3 257.73,423.55 258.9,425.4C260.07,427.25 261.23,429.02 262.4,430.1C263.57,431.18 264.93,432.28 265.9,431.9C266.87,431.52 267.23,429.65 268.2,427.8C269.17,425.95 271.12,421.97 271.7,420.8" fill="none" stroke="#5b9bd5" stroke-width="2.7" stroke-linejoin="round" stroke-linecap="round"/>
<path d="M55.1,424C55.38,424.83 56.23,426.53 56.8,429C57.37,431.47 58,434.67 58.5,438.8C59,442.93 59.38,448.8 59.8,453.8C60.22,458.8 60.58,464.68 61,468.8C61.42,472.92 61.87,476.12 62.3,478.5C62.73,480.88 63.2,482.43 63.6,483.1C64,483.77 64.38,483.02 64.7,482.5C65.02,481.98 65.15,482.08 65.5,480C65.85,477.92 66.38,474.17 66.8,470C67.22,465.83 67.65,460 68,455C68.35,450 68.6,445 68.9,440C69.2,435 69.48,430.53 69.8,425C70.12,419.47 70.5,411.55 70.8,406.8C71.1,402.05 71.32,399.38 71.6,396.5C71.88,393.62 72.18,390.98 72.5,389.5C72.82,388.02 73.17,386.32 73.5,387.6C73.83,388.88 74.25,393.27 74.5,397.2C74.75,401.13 74.82,407.15 75,411.2C75.18,415.25 75.35,418.83 75.6,421.5C75.85,424.17 76.18,426.53 76.5,427.2C76.82,427.87 77.02,426.18 77.5,425.5C77.98,424.82 78.3,423.63 79.4,423.1C80.5,422.57 82.45,422.3 84.1,422.3C85.75,422.3 87.4,422.83 89.3,423.1C91.2,423.37 94.3,423.78 95.5,423.9C96.7,424.02 96.08,423.9 96.5,423.83C96.92,423.77 97.5,423.57 98,423.51C98.5,423.44 99,423.41 99.5,423.42C100,423.44 100.5,423.52 101,423.59C101.5,423.67 102,423.79 102.5,423.86C103,423.94 103.5,424.01 104,424.04C104.5,424.08 105,424.07 105.5,424.07C106,424.06 106.5,424.02 107,424.01C107.5,424 108,423.99 108.5,424C109,424.01 109.5,424.05 110,424.07C110.5,424.1 111,424.14 111.5,424.14C112,424.14 112.5,424.12 113,424.06C113.5,424.01 114,423.9 114.5,423.81C115,423.72 115.5,423.59 116,423.52C116.5,423.45 117,423.38 117.5,423.39C118,423.39 118.5,423.45 119,423.54C119.5,423.63 120,423.79 120.5,423.91C121,424.03 121.5,424.19 122,424.27C122.5,424.35 123,424.41 123.5,424.41C124,424.41 124.5,424.34 125,424.26C125.5,424.19 126,424.06 126.5,423.97C127,423.89 127.5,423.79 128,423.74C128.5,423.69 129,423.68 129.5,423.68C130,423.68 130.5,423.72 131,423.74C131.5,423.76 132,423.79 132.5,423.8C133,423.8 133.5,423.79 134,423.77C134.5,423.76 135,423.72 135.5,423.72C136,423.71 136.5,423.71 137,423.75C137.5,423.79 138,423.87 138.5,423.95C139,424.03 139.5,424.15 140,424.22C140.5,424.3 141,424.38 141.5,424.39C142,424.4 142.5,424.36 143,424.29C143.5,424.22 144,424.07 144.5,423.95C145,423.83 145.5,423.66 146,423.57C146.5,423.47 147,423.39 147.5,423.38C148,423.36 148.5,423.41 149,423.48C149.5,423.55 150,423.68 150.5,423.78C151,423.88 151.5,423.99 152,424.06C152.5,424.13 153,424.16 153.5,424.17C154,424.18 154.5,424.14 155,424.11C155.5,424.09 156,424.03 156.5,424.01C157,423.99 157.5,423.98 158,423.99C158.5,423.99 159,424.02 159.5,424.03C160,424.03 160.5,424.05 161,424.02C161.5,424 162,423.94 162.5,423.88C163,423.81 163.5,423.7 164,423.63C164.5,423.56 165,423.47 165.5,423.45C166,423.43 166.5,423.44 167,423.5C167.5,423.55 168,423.68 168.5,423.8C169,423.91 169.5,424.08 170,424.19C170.5,424.29 171,424.39 171.5,424.42C172,424.45 172.5,424.43 173,424.37C173.5,424.31 174,424.18 174.5,424.08C175,423.97 175.5,423.83 176,423.75C176.5,423.67 177,423.61 177.5,423.59C178,423.57 178.5,423.6 179,423.63C179.5,423.66 180,423.72 180.5,423.76C181,423.8 181.5,423.83 182,423.84C182.5,423.85 183,423.83 183.5,423.83C184,423.83 184.5,423.8 185,423.81C185.5,423.83 186,423.86 186.5,423.91C187,423.96 187.5,424.05 188,424.11C188.5,424.18 189,424.27 189.5,424.3C190,424.34 190.5,424.35 191,424.3C191.5,424.26 192,424.16 192.5,424.05C193,423.94 193.5,423.78 194,423.67C194.5,423.56 195,423.44 195.5,423.39C196,423.34 196.5,423.35 197,423.39C197.5,423.44 197.53,423.62 198.5,423.67C199.47,423.72 199.45,423.79 202.8,423.7C206.15,423.61 214.65,423.13 218.6,423.1C222.55,423.07 224.07,423.17 226.5,423.5C228.93,423.83 231.3,424.72 233.2,425.1C235.1,425.48 236.25,425.8 237.9,425.8C239.55,425.8 241.55,425.55 243.1,425.1C244.65,424.65 245.63,423.57 247.2,423.1C248.77,422.63 250.85,422.2 252.5,422.3C254.15,422.4 255.6,423.08 257.1,423.7C258.6,424.32 259.93,425.52 261.5,426C263.07,426.48 264.98,426.98 266.5,426.6C268.02,426.22 269.92,424.18 270.6,423.7" fill="none" stroke="#ff0000" stroke-width="2.95" stroke-linejoin="round" stroke-linecap="round" stroke-dasharray="0 5"/>
</g>
<g clip-path="url(#cR1)">
<path d="M414.4,47.4C414.67,49.52 415.43,54.72 416,60.1C416.57,65.48 417.22,73.17 417.8,79.7C418.38,86.23 418.97,92.77 419.5,99.3C420.03,105.83 420.57,113.2 421,118.9C421.43,124.6 421.8,129.1 422.1,133.5C422.4,137.9 422.53,144.47 422.8,145.3C423.07,146.13 423.37,141.8 423.7,138.5C424.03,135.2 424.43,130.5 424.8,125.5C425.17,120.5 425.53,114.33 425.9,108.5C426.27,102.67 426.65,96.6 427,90.5C427.35,84.4 427.67,78.23 428,71.9C428.33,65.57 428.78,57.73 429,52.5C429.22,47.27 429.1,44.5 429.3,40.5C429.5,36.5 429.92,31.83 430.2,28.5C430.48,25.17 430.73,23.83 431,20.5C431.27,17.17 431.6,11.83 431.8,8.5C432,5.17 432.08,-0.67 432.2,0.5C432.32,1.67 432.4,10.5 432.5,15.5C432.6,20.5 432.7,26.33 432.8,30.5C432.9,34.67 433.02,37.17 433.1,40.5C433.18,43.83 433.23,47.92 433.3,50.5C433.37,53.08 433.37,55.67 433.5,56C433.63,56.33 433.85,53.92 434.1,52.5C434.35,51.08 434.6,48.85 435,47.5C435.4,46.15 435.7,45.02 436.5,44.4C437.3,43.78 438.37,43.72 439.8,43.8C441.23,43.88 442.97,44.37 445.1,44.9C447.23,45.43 450.03,46.82 452.6,47C455.17,47.18 458.22,46.15 460.5,46C462.78,45.85 463.88,46 466.3,46.1C468.72,46.2 472.38,46.72 475,46.6C477.62,46.48 479.22,45.25 482,45.4C484.78,45.55 489.07,47.38 491.7,47.5C494.33,47.62 495.32,46.45 497.8,46.1C500.28,45.75 504.27,45.22 506.6,45.4C508.93,45.58 510.2,47 511.8,47.2C513.4,47.4 514.73,47.07 516.2,46.6C517.67,46.13 518.42,44.18 520.6,44.4C522.78,44.62 526.68,47.67 529.3,47.9C531.92,48.13 533.67,46.1 536.3,45.8C538.93,45.5 542.73,45.88 545.1,46.1C547.47,46.32 548.77,46.7 550.5,47.1C552.23,47.5 553.4,49.07 555.5,48.5C557.6,47.93 560.57,43.55 563.1,43.7C565.63,43.85 567.85,48.98 570.7,49.4C573.55,49.82 577.03,46.58 580.2,46.2C583.37,45.82 586.98,47.13 589.7,47.1C592.42,47.07 594.3,46.25 596.5,46C598.7,45.75 601.03,45.82 602.9,45.6C604.77,45.38 606.12,43.9 607.7,44.7C609.28,45.5 610.93,50.1 612.4,50.4C613.87,50.7 615.07,47.77 616.5,46.5C617.93,45.23 619.5,42.63 621,42.8C622.5,42.97 624.08,45.98 625.5,47.5C626.92,49.02 628.2,51.58 629.5,51.9C630.8,52.22 631.87,51.18 633.3,49.4C634.73,47.62 637.3,42.57 638.1,41.2" fill="none" stroke="#5b9bd5" stroke-width="2.7" stroke-linejoin="round" stroke-linecap="round"/>
<path d="M414.4,48.3C414.67,50.27 415.45,54.87 416,60.1C416.55,65.33 417.15,73.17 417.7,79.7C418.25,86.23 418.78,92.77 419.3,99.3C419.82,105.83 420.37,113.03 420.8,118.9C421.23,124.77 421.58,130.55 421.9,134.5C422.22,138.45 422.4,141.6 422.7,142.6C423,143.6 423.35,143.18 423.7,140.5C424.05,137.82 424.45,131.5 424.8,126.5C425.15,121.5 425.47,116.17 425.8,110.5C426.13,104.83 426.48,98.33 426.8,92.5C427.12,86.67 427.38,81.17 427.7,75.5C428.02,69.83 428.42,63.67 428.7,58.5C428.98,53.33 429.23,48.9 429.4,44.5C429.57,40.1 429.57,36.43 429.7,32.1C429.83,27.77 430.03,22.15 430.2,18.5C430.37,14.85 430.43,9.87 430.7,10.2C430.97,10.53 431.45,15.43 431.8,20.5C432.15,25.57 432.45,35.73 432.8,40.6C433.15,45.47 433.45,48.62 433.9,49.7C434.35,50.78 434.8,47.8 435.5,47.1C436.2,46.4 436.85,45.72 438.1,45.5C439.35,45.28 441.3,45.63 443,45.8C444.7,45.97 446.7,46.25 448.3,46.5C449.9,46.75 451.08,47.35 452.6,47.3C454.12,47.25 455.75,46.27 457.4,46.2C459.05,46.13 460.32,46.85 462.5,46.9C464.68,46.95 467.25,46.68 470.5,46.5C473.75,46.32 478.47,45.67 482,45.8C485.53,45.93 489.07,47.22 491.7,47.3C494.33,47.38 495.32,46.55 497.8,46.3C500.28,46.05 504.27,45.68 506.6,45.8C508.93,45.92 509.47,47.13 511.8,47C514.13,46.87 517.68,44.92 520.6,45C523.52,45.08 526.68,47.33 529.3,47.5C531.92,47.67 533.67,46.2 536.3,46C538.93,45.8 542.73,46.13 545.1,46.3C547.47,46.47 548.77,46.8 550.5,47C552.23,47.2 553.4,47.88 555.5,47.5C557.6,47.12 560.25,44.53 563.1,44.7C565.95,44.87 569.12,48.35 572.6,48.5C576.08,48.65 580.18,45.93 584,45.6C587.82,45.27 591.92,46.48 595.5,46.5C599.08,46.52 602.83,45.22 605.5,45.7C608.17,46.18 609.72,49.1 611.5,49.4C613.28,49.7 614.47,48.45 616.2,47.5C617.93,46.55 620.15,43.7 621.9,43.7C623.65,43.7 625.43,46.38 626.7,47.5C627.97,48.62 628.53,50.15 629.5,50.4C630.47,50.65 631.23,50.12 632.5,49C633.77,47.88 636.33,44.58 637.1,43.7" fill="none" stroke="#ff0000" stroke-width="2.95" stroke-linejoin="round" stroke-linecap="round" stroke-dasharray="0 5"/>
</g>
<g clip-path="url(#cR2)">
<path d="M414,242.1C414.35,244.5 415.5,251.77 416.1,256.5C416.7,261.23 417.15,264.5 417.6,270.5C418.05,276.5 418.43,286.5 418.8,292.5C419.17,298.5 419.5,302.53 419.8,306.5C420.1,310.47 420.32,315.13 420.6,316.3C420.88,317.47 421.2,315.63 421.5,313.5C421.8,311.37 422.1,307.33 422.4,303.5C422.7,299.67 423,295.17 423.3,290.5C423.6,285.83 423.9,280.83 424.2,275.5C424.5,270.17 424.82,264.33 425.1,258.5C425.38,252.67 425.6,249.42 425.9,240.5C426.2,231.58 426.65,214 426.9,205C427.15,196 427.23,188.08 427.4,186.5C427.57,184.92 427.75,190.67 427.9,195.5C428.05,200.33 428.18,208.33 428.3,215.5C428.42,222.67 428.53,230.83 428.6,238.5C428.67,246.17 428.6,259.17 428.7,261.5C428.8,263.83 428.98,256 429.2,252.5C429.42,249 429.72,242.83 430,240.5C430.28,238.17 430.48,238.73 430.9,238.5C431.32,238.27 431.75,238.6 432.5,239.1C433.25,239.6 434.07,241.1 435.4,241.5C436.73,241.9 439.48,241.5 440.5,241.5C441.52,241.5 441.08,241.42 441.5,241.51C441.92,241.6 442.5,241.89 443,242.04C443.5,242.2 444,242.37 444.5,242.45C445,242.52 445.5,242.51 446,242.49C446.5,242.48 447,242.4 447.5,242.39C448,242.37 448.5,242.39 449,242.42C449.5,242.46 450,242.57 450.5,242.59C451,242.62 451.5,242.65 452,242.57C452.5,242.5 453,242.32 453.5,242.14C454,241.97 454.5,241.68 455,241.53C455.5,241.39 456,241.25 456.5,241.28C457,241.3 457.5,241.48 458,241.69C458.5,241.89 459,242.26 459.5,242.49C460,242.72 460.5,242.98 461,243.06C461.5,243.14 462,243.09 462.5,242.99C463,242.89 463.5,242.61 464,242.44C464.5,242.26 465,242.03 465.5,241.93C466,241.82 466.5,241.8 467,241.8C467.5,241.81 468,241.91 468.5,241.95C469,241.98 469.5,242.03 470,242.02C470.5,242.01 471,241.94 471.5,241.91C472,241.89 472.5,241.83 473,241.88C473.5,241.93 474,242.05 474.5,242.2C475,242.35 475.5,242.61 476,242.76C476.5,242.91 477,243.08 477.5,243.08C478,243.09 478.5,242.96 479,242.78C479.5,242.61 480,242.25 480.5,242.01C481,241.77 481.5,241.47 482,241.36C482.5,241.24 483,241.24 483.5,241.33C484,241.41 484.5,241.68 485,241.87C485.5,242.06 486,242.33 486.5,242.47C487,242.61 487.5,242.68 488,242.69C488.5,242.7 489,242.59 489.5,242.54C490,242.48 490.5,242.39 491,242.37C491.5,242.34 492,242.38 492.5,242.39C493,242.4 493.5,242.47 494,242.45C494.5,242.42 495,242.35 495.5,242.23C496,242.12 496.5,241.88 497,241.74C497.5,241.6 498,241.4 498.5,241.38C499,241.35 499.5,241.42 500,241.57C500.5,241.72 501,242.05 501.5,242.29C502,242.52 502.5,242.86 503,243C503.5,243.14 504,243.2 504.5,243.13C505,243.07 505.5,242.83 506,242.63C506.5,242.44 507,242.12 507.5,241.96C508,241.79 508.5,241.67 509,241.64C509.5,241.6 510,241.7 510.5,241.77C511,241.83 511.5,241.97 512,242.02C512.5,242.08 513,242.09 513.5,242.1C514,242.1 514.5,242.03 515,242.04C515.5,242.05 516,242.07 516.5,242.16C517,242.25 517.5,242.43 518,242.56C518.5,242.69 519,242.9 519.5,242.94C520,242.99 520.5,242.98 521,242.86C521.5,242.74 522,242.45 522.5,242.21C523,241.98 523.5,241.64 524,241.47C524.5,241.31 525,241.19 525.5,241.22C526,241.26 526.5,241.47 527,241.66C527.5,241.86 528,242.2 528.5,242.39C529,242.58 529.5,242.76 530,242.82C530.5,242.88 531,242.81 531.5,242.74C532,242.67 532.5,242.5 533,242.41C533.5,242.33 534,242.26 534.5,242.23C535,242.21 535.5,242.26 536,242.26C536.5,242.25 537,242.28 537.5,242.22C538,242.16 538.5,242.03 539,241.92C539.5,241.81 540,241.61 540.5,241.55C541,241.49 541.5,241.46 542,241.55C542.5,241.64 543,241.88 543.5,242.09C544,242.31 544.5,242.66 545,242.84C545.5,243.03 546,243.19 546.5,243.19C547,243.19 547.5,243.02 548,242.84C548.5,242.65 549,242.3 549.5,242.09C550,241.87 550.5,241.64 551,241.55C551.5,241.46 552,241.5 552.5,241.56C553,241.62 553.5,241.82 554,241.93C554.5,242.03 555,242.16 555.5,242.22C556,242.27 556.5,242.25 557,242.25C557.5,242.25 558,242.2 558.5,242.23C559,242.26 559.5,242.33 560,242.42C560.5,242.51 561,242.68 561.5,242.75C562,242.82 562.5,242.89 563,242.82C563.5,242.76 564,242.58 564.5,242.38C565,242.19 565.5,241.85 566,241.65C566.5,241.46 567,241.25 567.5,241.22C568,241.19 568.5,241.31 569,241.48C569.5,241.64 570,241.99 570.5,242.22C571,242.45 571.5,242.74 572,242.86C572.5,242.98 573,242.99 573.5,242.94C574,242.89 574.5,242.68 575,242.56C575.5,242.43 576,242.25 576.5,242.16C577,242.08 577.33,242.15 578,242.05C578.67,241.96 579.75,241.49 580.5,241.6C581.25,241.71 581.55,242.98 582.5,242.7C583.45,242.42 585.07,239.93 586.2,239.9C587.33,239.87 588.42,242.27 589.3,242.5C590.18,242.73 590.63,242.25 591.5,241.3C592.37,240.35 593.67,237.27 594.5,236.8C595.33,236.33 595.7,237.12 596.5,238.5C597.3,239.88 598.32,244.95 599.3,245.1C600.28,245.25 601.62,240.4 602.4,239.4C603.18,238.4 603.13,238.37 604,239.1C604.87,239.83 606.48,243.82 607.6,243.8C608.72,243.78 609.6,239.95 610.7,239C611.8,238.05 613.1,237.15 614.2,238.1C615.3,239.05 616.13,244.55 617.3,244.7C618.47,244.85 619.97,238.48 621.2,239C622.43,239.52 623.9,246.88 624.7,247.8C625.5,248.72 625.33,246.4 626,244.5C626.67,242.6 627.87,237.65 628.7,236.4C629.53,235.15 630.2,236.6 631,237C631.8,237.4 633.08,238.5 633.5,238.8" fill="none" stroke="#5b9bd5" stroke-width="2.7" stroke-linejoin="round" stroke-linecap="round"/>
<path d="M414.5,242.9C414.85,244.37 416.03,247.15 416.6,251.7C417.17,256.25 417.53,264.85 417.9,270.2C418.27,275.55 418.55,280.02 418.8,283.8C419.05,287.58 419.18,289.28 419.4,292.9C419.62,296.52 419.85,301.97 420.1,305.5C420.35,309.03 420.62,313.43 420.9,314.1C421.18,314.77 421.52,311.77 421.8,309.5C422.08,307.23 422.35,303.27 422.6,300.5C422.85,297.73 423,297.95 423.3,292.9C423.6,287.85 424.1,276.8 424.4,270.2C424.7,263.6 424.9,258.25 425.1,253.3C425.3,248.35 425.4,246.12 425.6,240.5C425.8,234.88 426.05,226.27 426.3,219.6C426.55,212.93 426.85,205.62 427.1,200.5C427.35,195.38 427.63,189.3 427.8,188.9C427.97,188.5 427.93,192.98 428.1,198.1C428.27,203.22 428.57,213.58 428.8,219.6C429.03,225.62 429.18,230.42 429.5,234.2C429.82,237.98 429.85,241.08 430.7,242.3C431.55,243.52 433.22,241.58 434.6,241.5C435.98,241.42 438.02,241.72 439,241.8C439.98,241.88 440,241.92 440.5,241.99C441,242.06 441.5,242.16 442,242.23C442.5,242.3 443,242.38 443.5,242.41C444,242.44 444.5,242.44 445,242.43C445.5,242.43 446,242.39 446.5,242.38C447,242.38 447.5,242.38 448,242.4C448.5,242.41 449,242.46 449.5,242.47C450,242.49 450.5,242.5 451,242.47C451.5,242.43 452,242.35 452.5,242.28C453,242.2 453.5,242.07 454,242C454.5,241.94 455,241.88 455.5,241.89C456,241.9 456.5,241.98 457,242.07C457.5,242.16 458,242.33 458.5,242.43C459,242.53 459.5,242.65 460,242.68C460.5,242.72 461,242.7 461.5,242.65C462,242.6 462.5,242.48 463,242.41C463.5,242.33 464,242.23 464.5,242.18C465,242.13 465.5,242.12 466,242.12C466.5,242.13 467,242.17 467.5,242.19C468,242.2 468.5,242.22 469,242.22C469.5,242.22 470,242.18 470.5,242.17C471,242.16 471.5,242.14 472,242.16C472.5,242.18 473,242.23 473.5,242.3C474,242.37 474.5,242.48 475,242.55C475.5,242.62 476,242.69 476.5,242.69C477,242.69 477.5,242.64 478,242.56C478.5,242.48 479,242.32 479.5,242.22C480,242.11 480.5,241.98 481,241.93C481.5,241.88 482,241.87 482.5,241.91C483,241.95 483.5,242.07 484,242.15C484.5,242.24 485,242.36 485.5,242.42C486,242.48 486.5,242.51 487,242.52C487.5,242.52 488,242.47 488.5,242.45C489,242.43 489.5,242.38 490,242.37C490.5,242.36 491,242.38 491.5,242.38C492,242.39 492.5,242.42 493,242.41C493.5,242.4 494,242.37 494.5,242.31C495,242.26 495.5,242.16 496,242.1C496.5,242.03 497,241.95 497.5,241.93C498,241.92 498.5,241.95 499,242.02C499.5,242.09 500,242.23 500.5,242.34C501,242.44 501.5,242.59 502,242.65C502.5,242.72 503,242.74 503.5,242.72C504,242.69 504.5,242.58 505,242.49C505.5,242.41 506,242.27 506.5,242.19C507,242.12 507.5,242.06 508,242.05C508.5,242.03 509,242.08 509.5,242.11C510,242.14 510.5,242.2 511,242.22C511.5,242.25 512,242.25 512.5,242.25C513,242.26 513.5,242.23 514,242.23C514.5,242.23 515,242.24 515.5,242.28C516,242.32 516.5,242.4 517,242.46C517.5,242.52 518,242.61 518.5,242.63C519,242.65 519.5,242.65 520,242.59C520.5,242.54 521,242.41 521.5,242.31C522,242.2 522.5,242.05 523,241.98C523.5,241.9 524,241.85 524.5,241.87C525,241.88 525.5,241.98 526,242.06C526.5,242.15 527,242.3 527.5,242.38C528,242.47 528.5,242.55 529,242.58C529.5,242.6 530,242.57 530.5,242.54C531,242.51 531.5,242.43 532,242.4C532.5,242.36 533,242.33 533.5,242.31C534,242.3 534.5,242.33 535,242.33C535.5,242.32 536,242.33 536.5,242.31C537,242.28 537.5,242.22 538,242.17C538.5,242.13 539,242.04 539.5,242.01C540,241.98 540.5,241.97 541,242.01C541.5,242.05 542,242.16 542.5,242.25C543,242.35 543.5,242.51 544,242.59C544.5,242.67 545,242.74 545.5,242.74C546,242.74 546.5,242.66 547,242.58C547.5,242.5 548,242.34 548.5,242.25C549,242.15 549.5,242.05 550,242.01C550.5,241.97 551,241.99 551.5,242.02C552,242.04 552.5,242.13 553,242.18C553.5,242.23 554,242.28 554.5,242.31C555,242.33 555.5,242.32 556,242.32C556.5,242.32 557,242.3 557.5,242.31C558,242.32 558.5,242.36 559,242.4C559.5,242.44 560,242.51 560.5,242.54C561,242.57 561.5,242.6 562,242.58C562.5,242.55 563,242.47 563.5,242.38C564,242.29 564.5,242.14 565,242.06C565.5,241.97 566,241.88 566.5,241.87C567,241.85 567.5,241.9 568,241.98C568.5,242.05 569,242.21 569.5,242.31C570,242.41 570.5,242.54 571,242.59C571.5,242.65 572,242.65 572.5,242.63C573,242.6 573.5,242.52 574,242.46C574.5,242.4 575,242.32 575.5,242.28C576,242.25 576.5,242.24 577,242.23C577.5,242.23 578,242.26 578.5,242.26C579,242.26 579.23,242.1 580,242.22C580.77,242.34 581.78,243.02 583.1,243C584.42,242.98 586.43,242.4 587.9,242.1C589.37,241.8 590.65,241.35 591.9,241.2C593.15,241.05 594.32,241.13 595.4,241.2C596.48,241.27 597.38,241.17 598.4,241.6C599.42,242.03 600.32,243.8 601.5,243.8C602.68,243.8 604.18,241.88 605.5,241.6C606.82,241.32 608.1,242.17 609.4,242.1C610.7,242.03 611.92,241.45 613.3,241.2C614.68,240.95 616.45,240.3 617.7,240.6C618.95,240.9 619.7,242.9 620.8,243C621.9,243.1 623.22,241.13 624.3,241.2C625.38,241.27 626.28,243.7 627.3,243.4C628.32,243.1 629.88,240.07 630.4,239.4" fill="none" stroke="#ff0000" stroke-width="2.95" stroke-linejoin="round" stroke-linecap="round" stroke-dasharray="0 5"/>
</g>
<g clip-path="url(#cR3)">
<path d="M413.7,425.2C413.92,425.75 414.5,426.62 415,428.5C415.5,430.38 416.23,433.33 416.7,436.5C417.17,439.67 417.53,444.9 417.8,447.5C418.07,450.1 418.07,449.1 418.3,452.1C418.53,455.1 418.92,461.48 419.2,465.5C419.48,469.52 419.7,471.37 420,476.2C420.3,481.03 420.67,489.95 421,494.5C421.33,499.05 421.65,503.17 422,503.5C422.35,503.83 422.75,500.33 423.1,496.5C423.45,492.67 423.77,486.9 424.1,480.5C424.43,474.1 424.75,465.22 425.1,458.1C425.45,450.98 425.88,444.13 426.2,437.8C426.52,431.47 426.82,424.35 427,420.1C427.18,415.85 427.22,418.07 427.3,412.3C427.38,406.53 427.4,393.13 427.5,385.5C427.6,377.87 427.67,365.37 427.9,366.5C428.13,367.63 428.63,383.55 428.9,392.3C429.17,401.05 429.23,411.77 429.5,419C429.77,426.23 429.93,435.03 430.5,435.7C431.07,436.37 432.07,425.22 432.9,423C433.73,420.78 433.93,422.17 435.5,422.4C437.07,422.63 438.97,424.07 442.3,424.4C445.63,424.73 453.13,424.5 455.5,424.4C457.87,424.3 456.08,423.82 456.5,423.81C456.92,423.8 457.5,424.19 458,424.34C458.5,424.5 459,424.67 459.5,424.75C460,424.82 460.5,424.81 461,424.79C461.5,424.78 462,424.7 462.5,424.69C463,424.67 463.5,424.69 464,424.72C464.5,424.76 465,424.87 465.5,424.89C466,424.92 466.5,424.95 467,424.87C467.5,424.8 468,424.62 468.5,424.44C469,424.27 469.5,423.98 470,423.83C470.5,423.69 471,423.55 471.5,423.58C472,423.6 472.5,423.78 473,423.99C473.5,424.19 474,424.56 474.5,424.79C475,425.02 475.5,425.28 476,425.36C476.5,425.44 477,425.39 477.5,425.29C478,425.19 478.5,424.91 479,424.74C479.5,424.56 480,424.33 480.5,424.23C481,424.12 481.5,424.1 482,424.1C482.5,424.11 483,424.21 483.5,424.25C484,424.28 484.5,424.33 485,424.32C485.5,424.31 486,424.24 486.5,424.21C487,424.19 487.5,424.13 488,424.18C488.5,424.23 489,424.35 489.5,424.5C490,424.65 490.5,424.91 491,425.06C491.5,425.21 492,425.38 492.5,425.38C493,425.39 493.5,425.26 494,425.08C494.5,424.91 495,424.55 495.5,424.31C496,424.07 496.5,423.77 497,423.66C497.5,423.54 498,423.54 498.5,423.63C499,423.71 499.5,423.98 500,424.17C500.5,424.36 501,424.63 501.5,424.77C502,424.91 502.5,424.98 503,424.99C503.5,425 504,424.89 504.5,424.84C505,424.78 505.5,424.69 506,424.67C506.5,424.64 507,424.68 507.5,424.69C508,424.7 508.5,424.77 509,424.75C509.5,424.72 510,424.65 510.5,424.53C511,424.42 511.5,424.18 512,424.04C512.5,423.9 513,423.7 513.5,423.68C514,423.65 514.5,423.72 515,423.87C515.5,424.02 516,424.35 516.5,424.59C517,424.82 517.5,425.16 518,425.3C518.5,425.44 519,425.5 519.5,425.43C520,425.37 520.5,425.13 521,424.93C521.5,424.74 522,424.42 522.5,424.26C523,424.09 523.5,423.97 524,423.94C524.5,423.9 525,424 525.5,424.07C526,424.13 526.5,424.27 527,424.32C527.5,424.38 528,424.39 528.5,424.4C529,424.4 529.5,424.33 530,424.34C530.5,424.35 531,424.37 531.5,424.46C532,424.55 532.5,424.73 533,424.86C533.5,424.99 534,425.2 534.5,425.24C535,425.29 535.5,425.28 536,425.16C536.5,425.04 537,424.75 537.5,424.51C538,424.28 538.5,423.94 539,423.77C539.5,423.61 540,423.49 540.5,423.52C541,423.56 541.5,423.77 542,423.96C542.5,424.16 543,424.5 543.5,424.69C544,424.88 544.5,425.06 545,425.12C545.5,425.18 546,425.11 546.5,425.04C547,424.97 547.5,424.8 548,424.71C548.5,424.63 549,424.56 549.5,424.53C550,424.51 550.5,424.56 551,424.56C551.5,424.55 552,424.58 552.5,424.52C553,424.46 553.5,424.33 554,424.22C554.5,424.11 555,423.91 555.5,423.85C556,423.79 556.5,423.76 557,423.85C557.5,423.94 557.92,424.32 558.5,424.39C559.08,424.47 559,424.45 560.5,424.3C562,424.15 565.07,423.65 567.5,423.5C569.93,423.35 572.32,423.12 575.1,423.4C577.88,423.68 581.17,425.12 584.2,425.2C587.23,425.28 589.95,424.12 593.3,423.9C596.65,423.68 601.1,424.28 604.3,423.9C607.5,423.52 610.22,420.77 612.5,421.6C614.78,422.43 616.17,428.6 618,428.9C619.83,429.2 621.98,423.87 623.5,423.4C625.02,422.93 625.58,426.4 627.1,426.1C628.62,425.8 631.07,421.67 632.6,421.6C634.13,421.53 635.03,425.67 636.3,425.7C637.57,425.73 638.73,421.15 640.2,421.8C641.67,422.45 643.47,430.02 645.1,429.6C646.73,429.18 648.37,419.7 650,419.3C651.63,418.9 653.27,427.03 654.9,427.2C656.53,427.37 658.62,420.08 659.8,420.3C660.98,420.52 661.47,425.97 662,428.5C662.53,431.03 662.55,434.45 663,435.5C663.45,436.55 664.12,436.47 664.7,434.8C665.28,433.13 665.92,428.35 666.5,425.5C667.08,422.65 667.62,419.15 668.2,417.7C668.78,416.25 669.2,416.37 670,416.8C670.8,417.23 672.5,419.72 673,420.3" fill="none" stroke="#5b9bd5" stroke-width="2.7" stroke-linejoin="round" stroke-linecap="round"/>
<path d="M414,424.7C414.43,425.4 415.98,426.72 416.6,428.9C417.22,431.08 417.33,433.65 417.7,437.8C418.07,441.95 418.45,448.73 418.8,453.8C419.15,458.87 419.5,463.38 419.8,468.2C420.1,473.02 420.33,478.65 420.6,482.7C420.87,486.75 421.15,489.7 421.4,492.5C421.65,495.3 421.88,497.92 422.1,499.5C422.32,501.08 422.47,501.92 422.7,502C422.93,502.08 423.23,501.58 423.5,500C423.77,498.42 423.93,496.72 424.3,492.5C424.67,488.28 425.38,480.35 425.7,474.7C426.02,469.05 426.08,464.3 426.2,458.6C426.32,452.9 426.25,445.98 426.4,440.5C426.55,435.02 426.92,431.52 427.1,425.7C427.28,419.88 427.32,411.62 427.5,405.6C427.68,399.58 427.9,393.38 428.2,389.6C428.5,385.82 428.97,382.45 429.3,382.9C429.63,383.35 429.93,388.52 430.2,392.3C430.47,396.08 430.72,401.15 430.9,405.6C431.08,410.05 431.08,415.43 431.3,419C431.52,422.57 431.93,425.22 432.2,427C432.47,428.78 432.57,430.13 432.9,429.7C433.23,429.27 433.42,425.62 434.2,424.4C434.98,423.18 436.25,422.52 437.6,422.4C438.95,422.28 440.75,423.27 442.3,423.7C443.85,424.13 445.35,424.78 446.9,425C448.45,425.22 450.67,425.17 451.6,425C452.53,424.83 452.1,424.12 452.5,423.99C452.9,423.86 453.5,424.16 454,424.23C454.5,424.3 455,424.38 455.5,424.41C456,424.44 456.5,424.44 457,424.43C457.5,424.43 458,424.39 458.5,424.38C459,424.38 459.5,424.38 460,424.4C460.5,424.41 461,424.46 461.5,424.47C462,424.49 462.5,424.5 463,424.47C463.5,424.43 464,424.35 464.5,424.28C465,424.2 465.5,424.07 466,424C466.5,423.94 467,423.88 467.5,423.89C468,423.9 468.5,423.98 469,424.07C469.5,424.16 470,424.33 470.5,424.43C471,424.53 471.5,424.65 472,424.68C472.5,424.72 473,424.7 473.5,424.65C474,424.6 474.5,424.48 475,424.41C475.5,424.33 476,424.23 476.5,424.18C477,424.13 477.5,424.12 478,424.12C478.5,424.13 479,424.17 479.5,424.19C480,424.2 480.5,424.22 481,424.22C481.5,424.22 482,424.18 482.5,424.17C483,424.16 483.5,424.14 484,424.16C484.5,424.18 485,424.23 485.5,424.3C486,424.37 486.5,424.48 487,424.55C487.5,424.62 488,424.69 488.5,424.69C489,424.69 489.5,424.64 490,424.56C490.5,424.48 491,424.32 491.5,424.22C492,424.11 492.5,423.98 493,423.93C493.5,423.88 494,423.87 494.5,423.91C495,423.95 495.5,424.07 496,424.15C496.5,424.24 497,424.36 497.5,424.42C498,424.48 498.5,424.51 499,424.52C499.5,424.52 500,424.47 500.5,424.45C501,424.43 501.5,424.38 502,424.37C502.5,424.36 503,424.38 503.5,424.38C504,424.39 504.5,424.42 505,424.41C505.5,424.4 506,424.37 506.5,424.31C507,424.26 507.5,424.16 508,424.1C508.5,424.03 509,423.95 509.5,423.93C510,423.92 510.5,423.95 511,424.02C511.5,424.09 512,424.23 512.5,424.34C513,424.44 513.5,424.59 514,424.65C514.5,424.72 515,424.74 515.5,424.72C516,424.69 516.5,424.58 517,424.49C517.5,424.41 518,424.27 518.5,424.19C519,424.12 519.5,424.06 520,424.05C520.5,424.03 521,424.08 521.5,424.11C522,424.14 522.5,424.2 523,424.22C523.5,424.25 524,424.25 524.5,424.25C525,424.26 525.5,424.23 526,424.23C526.5,424.23 527,424.24 527.5,424.28C528,424.32 528.5,424.4 529,424.46C529.5,424.52 530,424.61 530.5,424.63C531,424.65 531.5,424.65 532,424.59C532.5,424.54 533,424.41 533.5,424.31C534,424.2 534.5,424.05 535,423.98C535.5,423.9 536,423.85 536.5,423.87C537,423.88 537.5,423.98 538,424.06C538.5,424.15 539,424.3 539.5,424.38C540,424.47 540.5,424.55 541,424.58C541.5,424.6 542,424.57 542.5,424.54C543,424.51 543.5,424.43 544,424.4C544.5,424.36 545,424.33 545.5,424.31C546,424.3 546.5,424.33 547,424.33C547.5,424.32 548,424.33 548.5,424.31C549,424.28 549.5,424.22 550,424.17C550.5,424.13 551,424.04 551.5,424.01C552,423.98 552.5,423.97 553,424.01C553.5,424.05 554,424.16 554.5,424.25C555,424.35 555.5,424.51 556,424.59C556.5,424.67 557,424.74 557.5,424.74C558,424.74 558.5,424.66 559,424.58C559.5,424.5 560,424.34 560.5,424.25C561,424.15 561.5,424.05 562,424.01C562.5,423.97 563,423.99 563.5,424.02C564,424.04 564.5,424.13 565,424.18C565.5,424.23 566,424.28 566.5,424.31C567,424.33 567.5,424.32 568,424.32C568.5,424.32 569,424.3 569.5,424.31C570,424.32 570.5,424.36 571,424.4C571.5,424.44 572,424.51 572.5,424.54C573,424.57 573.5,424.6 574,424.58C574.5,424.55 575,424.47 575.5,424.38C576,424.29 576.5,424.14 577,424.06C577.5,423.97 578,423.88 578.5,423.87C579,423.85 579.5,423.9 580,423.98C580.5,424.05 581,424.21 581.5,424.31C582,424.41 582.5,424.54 583,424.59C583.5,424.65 584,424.65 584.5,424.63C585,424.6 585.5,424.52 586,424.46C586.5,424.4 587,424.32 587.5,424.28C588,424.25 588.5,424.24 589,424.23C589.5,424.23 590,424.26 590.5,424.26C591,424.26 591.5,424.25 592,424.22C592.5,424.19 593,424.13 593.5,424.1C594,424.07 594.5,424.03 595,424.05C595.5,424.06 596,424.12 596.5,424.19C597,424.27 597.5,424.41 598,424.5C598.5,424.58 598.45,424.82 599.5,424.72C600.55,424.62 602.58,424.12 604.3,423.9C606.02,423.68 607.6,422.77 609.8,423.4C612,424.03 615.43,427.42 617.5,427.7C619.57,427.98 620.62,425.53 622.2,425.1C623.78,424.67 625.47,425.57 627,425.1C628.53,424.63 629.87,422.58 631.4,422.3C632.93,422.02 634.6,423.3 636.2,423.4C637.8,423.5 639.47,422.53 641,422.9C642.53,423.27 643.93,425.6 645.4,425.6C646.87,425.6 648.42,422.98 649.8,422.9C651.18,422.82 652.23,424.7 653.7,425.1C655.17,425.5 657.07,425 658.6,425.3C660.13,425.6 661.52,426.82 662.9,426.9C664.28,426.98 665.58,426.42 666.9,425.8C668.22,425.18 670.15,423.63 670.8,423.2" fill="none" stroke="#ff0000" stroke-width="2.95" stroke-linejoin="round" stroke-linecap="round" stroke-dasharray="0 5"/>
</g>
<line x1="152.1" y1="138.4" x2="191.8" y2="138.4" stroke="#5b9bd5" stroke-width="2.7" stroke-linecap="round"/>
<line x1="152.2" y1="158.5" x2="192.7" y2="158.5" stroke="#ff0000" stroke-width="2.7" stroke-linecap="round" stroke-dasharray="0 5.04"/>
<line x1="161.2" y1="318.2" x2="200.7" y2="318.2" stroke="#5b9bd5" stroke-width="2.7" stroke-linecap="round"/>
<line x1="161" y1="339.5" x2="201.5" y2="339.5" stroke="#ff0000" stroke-width="2.7" stroke-linecap="round" stroke-dasharray="0 5.04"/>
<line x1="153" y1="499.6" x2="192.8" y2="499.6" stroke="#5b9bd5" stroke-width="2.7" stroke-linecap="round"/>
<line x1="153.1" y1="521.2" x2="193.6" y2="521.2" stroke="#ff0000" stroke-width="2.7" stroke-linecap="round" stroke-dasharray="0 5.04"/>
<line x1="515.4" y1="139.8" x2="554.9" y2="139.8" stroke="#5b9bd5" stroke-width="2.7" stroke-linecap="round"/>
<line x1="515.4" y1="158.9" x2="555.7" y2="158.9" stroke="#ff0000" stroke-width="2.7" stroke-linecap="round" stroke-dasharray="0 5.01"/>
<line x1="515.4" y1="319.8" x2="554.9" y2="319.8" stroke="#5b9bd5" stroke-width="2.7" stroke-linecap="round"/>
<line x1="515.4" y1="338.9" x2="555.7" y2="338.9" stroke="#ff0000" stroke-width="2.7" stroke-linecap="round" stroke-dasharray="0 5.01"/>
<line x1="511.2" y1="497.7" x2="551" y2="497.7" stroke="#5b9bd5" stroke-width="2.7" stroke-linecap="round"/>
<line x1="511.2" y1="518.2" x2="551.7" y2="518.2" stroke="#ff0000" stroke-width="2.7" stroke-linecap="round" stroke-dasharray="0 5.04"/>
<g style="filter:grayscale(1)">
<text class="tk" x="42.9" y="10.2" text-anchor="end">100</text>
<text class="tk" x="42.9" y="65.1" text-anchor="end">0</text>
<text class="tk" x="42.9" y="120" text-anchor="end">-100</text>
<text class="tk" x="42.9" y="174.9" text-anchor="end">-200</text>
<text class="tk" x="54.8" y="81.9" text-anchor="middle">0</text>
<text class="tk" x="106.68" y="81.9" text-anchor="middle">50</text>
<text class="tk" x="158.56" y="81.9" text-anchor="middle">100</text>
<text class="tk" x="210.44" y="81.9" text-anchor="middle">150</text>
<text class="tk" x="262.32" y="81.9" text-anchor="middle">200</text>
<text class="tk" x="314.2" y="81.9" text-anchor="middle">250</text>
<text class="tk" x="42.9" y="191.8" text-anchor="end">100</text>
<text class="tk" x="42.9" y="246.7" text-anchor="end">0</text>
<text class="tk" x="42.9" y="301.6" text-anchor="end">-100</text>
<text class="tk" x="42.9" y="356.5" text-anchor="end">-200</text>
<text class="tk" x="54.8" y="263.5" text-anchor="middle">0</text>
<text class="tk" x="106.68" y="263.5" text-anchor="middle">50</text>
<text class="tk" x="158.56" y="263.5" text-anchor="middle">100</text>
<text class="tk" x="210.44" y="263.5" text-anchor="middle">150</text>
<text class="tk" x="262.32" y="263.5" text-anchor="middle">200</text>
<text class="tk" x="314.2" y="263.5" text-anchor="middle">250</text>
<text class="tk" x="42.9" y="373.6" text-anchor="end">100</text>
<text class="tk" x="42.9" y="428.4" text-anchor="end">0</text>
<text class="tk" x="42.9" y="483.2" text-anchor="end">-100</text>
<text class="tk" x="42.9" y="538" text-anchor="end">-200</text>
<text class="tk" x="54.8" y="445.2" text-anchor="middle">0</text>
<text class="tk" x="106.68" y="445.2" text-anchor="middle">50</text>
<text class="tk" x="158.56" y="445.2" text-anchor="middle">100</text>
<text class="tk" x="210.44" y="445.2" text-anchor="middle">150</text>
<text class="tk" x="262.32" y="445.2" text-anchor="middle">200</text>
<text class="tk" x="314.2" y="445.2" text-anchor="middle">250</text>
<text class="tk" x="402.1" y="10.2" text-anchor="end">100</text>
<text class="tk" x="402.1" y="51.35" text-anchor="end">0</text>
<text class="tk" x="402.1" y="92.5" text-anchor="end">-100</text>
<text class="tk" x="402.1" y="133.65" text-anchor="end">-200</text>
<text class="tk" x="402.1" y="174.8" text-anchor="end">-300</text>
<text class="tk" x="414" y="68.15" text-anchor="middle">0</text>
<text class="tk" x="466.18" y="68.15" text-anchor="middle">50</text>
<text class="tk" x="518.36" y="68.15" text-anchor="middle">100</text>
<text class="tk" x="570.54" y="68.15" text-anchor="middle">150</text>
<text class="tk" x="622.72" y="68.15" text-anchor="middle">200</text>
<text class="tk" x="674.9" y="68.15" text-anchor="middle">250</text>
<text class="tk" x="401.9" y="191.8" text-anchor="end">100</text>
<text class="tk" x="401.9" y="246.7" text-anchor="end">0</text>
<text class="tk" x="401.9" y="301.6" text-anchor="end">-100</text>
<text class="tk" x="401.9" y="356.5" text-anchor="end">-200</text>
<text class="tk" x="413.8" y="263.5" text-anchor="middle">0</text>
<text class="tk" x="466.02" y="263.5" text-anchor="middle">50</text>
<text class="tk" x="518.24" y="263.5" text-anchor="middle">100</text>
<text class="tk" x="570.46" y="263.5" text-anchor="middle">150</text>
<text class="tk" x="622.68" y="263.5" text-anchor="middle">200</text>
<text class="tk" x="674.9" y="263.5" text-anchor="middle">250</text>
<text class="tk" x="401.5" y="374.1" text-anchor="end">100</text>
<text class="tk" x="401.5" y="428.6" text-anchor="end">0</text>
<text class="tk" x="401.5" y="483.1" text-anchor="end">-100</text>
<text class="tk" x="401.5" y="537.6" text-anchor="end">-200</text>
<text class="tk" x="413.4" y="445.4" text-anchor="middle">0</text>
<text class="tk" x="465.44" y="445.4" text-anchor="middle">50</text>
<text class="tk" x="517.48" y="445.4" text-anchor="middle">100</text>
<text class="tk" x="569.52" y="445.4" text-anchor="middle">150</text>
<text class="tk" x="621.56" y="445.4" text-anchor="middle">200</text>
<text class="tk" x="673.6" y="445.4" text-anchor="middle">250</text>
<text class="st" x="273.4" y="46.5">Step</text>
<text class="st" x="273.4" y="229.8">Step</text>
<text class="st" x="274.9" y="416.1">Step</text>
<text class="st" x="637.5" y="31.9">Step</text>
<text class="st" x="632.7" y="228.4">Step</text>
<text class="st" x="636.1" y="406.8">Step</text>
<text class="hd" x="234.6" y="112.2">(Good)</text>
<line x1="234.6" y1="114.3" x2="282.5" y2="114.3" stroke="#000" stroke-width="1.5"/>
<text class="hd" x="238.6" y="290.3">(Fair)</text>
<line x1="238.6" y1="292.9" x2="278.6" y2="292.9" stroke="#000" stroke-width="1.5"/>
<text class="hd" x="239.3" y="472.9">(Bad)</text>
<line x1="239.3" y1="474.9" x2="277.9" y2="474.9" stroke="#000" stroke-width="1.5"/>
<text class="hd" x="601.2" y="116.5">(Good)</text>
<line x1="601.2" y1="119" x2="649.8" y2="119" stroke="#000" stroke-width="1.5"/>
<text class="hd" x="598.1" y="295">(Fair)</text>
<line x1="598.1" y1="297.4" x2="638" y2="297.4" stroke="#000" stroke-width="1.5"/>
<text class="hd" x="595.4" y="478.6">(Bad)</text>
<line x1="595.4" y1="481.2" x2="633.7" y2="481.2" stroke="#000" stroke-width="1.5"/>
<text class="hd" x="129.3" y="557.3">(Training)</text>
<line x1="129.3" y1="559.7" x2="199.9" y2="559.7" stroke="#000" stroke-width="1.5"/>
<text class="hd" x="484.1" y="557.3">(Validation)</text>
<line x1="484.1" y1="559.7" x2="566.4" y2="559.7" stroke="#000" stroke-width="1.5"/>
<text class="lg" x="196.5" y="142.8">Digitized Velocity</text>
<text class="lg" x="196.5" y="163.2">Predicted Velocity</text>
<text class="lg" x="205.4" y="322.8">Digitized Velocity</text>
<text class="lg" x="205.4" y="344.1">Predicted Velocity</text>
<text class="lg" x="197.4" y="504.3">Digtized Velocity</text>
<text class="lg" x="197.4" y="525.6">Predicted Velocity</text>
<text class="lg" x="559.4" y="144.3">Digitized Velocity</text>
<text class="lg" x="559.4" y="163.5">Predicted Velocity</text>
<text class="lg" x="559.4" y="324.3">Digitized Velocity</text>
<text class="lg" x="559.4" y="343.5">Predicted Velocity</text>
<text class="lg" x="555.7" y="502.1">Digitized Velocity</text>
<text class="lg" x="555.7" y="523.1">Predicted Velocity</text>
<text class="ti" text-anchor="middle" transform="translate(13.3 88.4) rotate(-90)">Noemalized velocity</text>
<text class="ti" text-anchor="middle" transform="translate(13.5 269.9) rotate(-90)">Noemalized velocity</text>
<text class="ti" text-anchor="middle" transform="translate(13.5 451.5) rotate(-90)">Noemalized velocity</text>
<text class="ti" text-anchor="middle" transform="translate(372.7 86.9) rotate(-90)">Noemalized velocity</text>
<text class="ti" text-anchor="middle" transform="translate(372.9 269.9) rotate(-90)">Noemalized velocity</text>
<text class="ti" text-anchor="middle" transform="translate(372.9 451.4) rotate(-90)">Noemalized velocity</text>
</g>
</svg></body></html>
